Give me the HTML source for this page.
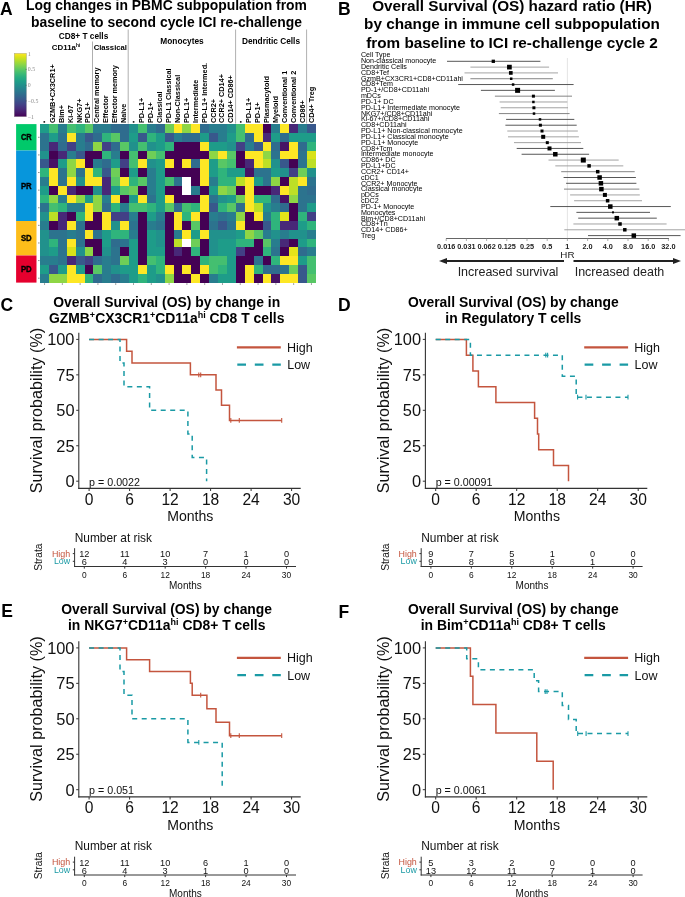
<!DOCTYPE html>
<html><head><meta charset="utf-8"><style>
html,body{margin:0;padding:0;background:#fff;}
svg{display:block;will-change:transform;font-family:"Liberation Sans", sans-serif;}
</style></head><body>
<svg width="685" height="897" viewBox="0 0 685 897">
<rect width="685" height="897" fill="#fff"/>
<text x="0.00" y="14.50" font-size="17.5" text-anchor="start" font-weight="bold" fill="#000" >A</text>
<text x="338.00" y="14.50" font-size="17.5" text-anchor="start" font-weight="bold" fill="#000" >B</text>
<text x="0.50" y="311.00" font-size="17.5" text-anchor="start" font-weight="bold" fill="#000" >C</text>
<text x="338.00" y="310.80" font-size="17.5" text-anchor="start" font-weight="bold" fill="#000" >D</text>
<text x="1.20" y="617.00" font-size="17.5" text-anchor="start" font-weight="bold" fill="#000" >E</text>
<text x="338.50" y="617.60" font-size="17.5" text-anchor="start" font-weight="bold" fill="#000" >F</text>
<text x="166.50" y="9.80" font-size="13.9" text-anchor="middle" font-weight="bold" fill="#000" >Log changes in PBMC subpopulation from</text>
<text x="166.50" y="27.40" font-size="13.9" text-anchor="middle" font-weight="bold" fill="#000" >baseline to second cycle ICI re-challenge</text>
<g shape-rendering="crispEdges">
<rect x="40.10" y="124.10" width="9.30" height="9.21" fill="#1e9c89" />
<rect x="49.00" y="124.10" width="9.30" height="9.21" fill="#44bf70" />
<rect x="57.89" y="124.10" width="9.30" height="9.21" fill="#287d8e" />
<rect x="66.79" y="124.10" width="9.30" height="9.21" fill="#44bf70" />
<rect x="75.69" y="124.10" width="9.30" height="9.21" fill="#2fb47c" />
<rect x="84.58" y="124.10" width="9.30" height="9.21" fill="#58c765" />
<rect x="93.48" y="124.10" width="9.30" height="9.21" fill="#287d8e" />
<rect x="102.38" y="124.10" width="9.30" height="9.21" fill="#287d8e" />
<rect x="111.27" y="124.10" width="9.30" height="9.21" fill="#2f6c8e" />
<rect x="120.17" y="124.10" width="9.30" height="9.21" fill="#2f6c8e" />
<rect x="129.07" y="124.10" width="9.30" height="9.21" fill="#21918c" />
<rect x="137.96" y="124.10" width="9.30" height="9.21" fill="#44bf70" />
<rect x="146.86" y="124.10" width="9.30" height="9.21" fill="#287d8e" />
<rect x="155.76" y="124.10" width="9.30" height="9.21" fill="#2f6c8e" />
<rect x="164.65" y="124.10" width="9.30" height="9.21" fill="#6ece58" />
<rect x="173.55" y="124.10" width="9.30" height="9.21" fill="#fde725" />
<rect x="182.45" y="124.10" width="9.30" height="9.21" fill="#8ed645" />
<rect x="191.35" y="124.10" width="9.30" height="9.21" fill="#fde725" />
<rect x="200.24" y="124.10" width="9.30" height="9.21" fill="#2f6c8e" />
<rect x="209.14" y="124.10" width="9.30" height="9.21" fill="#287d8e" />
<rect x="218.04" y="124.10" width="9.30" height="9.21" fill="#287d8e" />
<rect x="226.93" y="124.10" width="9.30" height="9.21" fill="#21918c" />
<rect x="235.83" y="124.10" width="9.30" height="9.21" fill="#44bf70" />
<rect x="244.73" y="124.10" width="9.30" height="9.21" fill="#fde725" />
<rect x="253.62" y="124.10" width="9.30" height="9.21" fill="#fde725" />
<rect x="262.52" y="124.10" width="9.30" height="9.21" fill="#440154" />
<rect x="271.42" y="124.10" width="9.30" height="9.21" fill="#287d8e" />
<rect x="280.31" y="124.10" width="9.30" height="9.21" fill="#fde725" />
<rect x="289.21" y="124.10" width="9.30" height="9.21" fill="#482878" />
<rect x="298.11" y="124.10" width="9.30" height="9.21" fill="#287d8e" />
<rect x="307.00" y="124.10" width="9.30" height="9.21" fill="#38588c" />
<rect x="40.10" y="132.91" width="9.30" height="9.21" fill="#2c738e" />
<rect x="49.00" y="132.91" width="9.30" height="9.21" fill="#1e9c89" />
<rect x="57.89" y="132.91" width="9.30" height="9.21" fill="#2c738e" />
<rect x="66.79" y="132.91" width="9.30" height="9.21" fill="#fde725" />
<rect x="75.69" y="132.91" width="9.30" height="9.21" fill="#287d8e" />
<rect x="84.58" y="132.91" width="9.30" height="9.21" fill="#38588c" />
<rect x="93.48" y="132.91" width="9.30" height="9.21" fill="#2f6c8e" />
<rect x="102.38" y="132.91" width="9.30" height="9.21" fill="#2fb47c" />
<rect x="111.27" y="132.91" width="9.30" height="9.21" fill="#58c765" />
<rect x="120.17" y="132.91" width="9.30" height="9.21" fill="#2f6c8e" />
<rect x="129.07" y="132.91" width="9.30" height="9.21" fill="#1e9c89" />
<rect x="137.96" y="132.91" width="9.30" height="9.21" fill="#38588c" />
<rect x="146.86" y="132.91" width="9.30" height="9.21" fill="#2fb47c" />
<rect x="155.76" y="132.91" width="9.30" height="9.21" fill="#1e9c89" />
<rect x="164.65" y="132.91" width="9.30" height="9.21" fill="#38588c" />
<rect x="173.55" y="132.91" width="9.30" height="9.21" fill="#287d8e" />
<rect x="182.45" y="132.91" width="9.30" height="9.21" fill="#2f6c8e" />
<rect x="191.35" y="132.91" width="9.30" height="9.21" fill="#2f6c8e" />
<rect x="200.24" y="132.91" width="9.30" height="9.21" fill="#1e9c89" />
<rect x="209.14" y="132.91" width="9.30" height="9.21" fill="#38588c" />
<rect x="218.04" y="132.91" width="9.30" height="9.21" fill="#287d8e" />
<rect x="226.93" y="132.91" width="9.30" height="9.21" fill="#1e9c89" />
<rect x="235.83" y="132.91" width="9.30" height="9.21" fill="#44bf70" />
<rect x="244.73" y="132.91" width="9.30" height="9.21" fill="#2f6c8e" />
<rect x="253.62" y="132.91" width="9.30" height="9.21" fill="#fde725" />
<rect x="262.52" y="132.91" width="9.30" height="9.21" fill="#482878" />
<rect x="271.42" y="132.91" width="9.30" height="9.21" fill="#1e9c89" />
<rect x="280.31" y="132.91" width="9.30" height="9.21" fill="#2f6c8e" />
<rect x="289.21" y="132.91" width="9.30" height="9.21" fill="#1e9c89" />
<rect x="298.11" y="132.91" width="9.30" height="9.21" fill="#1e9c89" />
<rect x="307.00" y="132.91" width="9.30" height="9.21" fill="#1e9c89" />
<rect x="40.10" y="141.71" width="9.30" height="9.21" fill="#2c738e" />
<rect x="49.00" y="141.71" width="9.30" height="9.21" fill="#482878" />
<rect x="57.89" y="141.71" width="9.30" height="9.21" fill="#2f6c8e" />
<rect x="66.79" y="141.71" width="9.30" height="9.21" fill="#424086" />
<rect x="75.69" y="141.71" width="9.30" height="9.21" fill="#287d8e" />
<rect x="84.58" y="141.71" width="9.30" height="9.21" fill="#2f6c8e" />
<rect x="93.48" y="141.71" width="9.30" height="9.21" fill="#8ed645" />
<rect x="102.38" y="141.71" width="9.30" height="9.21" fill="#424086" />
<rect x="111.27" y="141.71" width="9.30" height="9.21" fill="#2f6c8e" />
<rect x="120.17" y="141.71" width="9.30" height="9.21" fill="#58c765" />
<rect x="129.07" y="141.71" width="9.30" height="9.21" fill="#21918c" />
<rect x="137.96" y="141.71" width="9.30" height="9.21" fill="#44bf70" />
<rect x="146.86" y="141.71" width="9.30" height="9.21" fill="#21918c" />
<rect x="155.76" y="141.71" width="9.30" height="9.21" fill="#1e9c89" />
<rect x="164.65" y="141.71" width="9.30" height="9.21" fill="#2fb47c" />
<rect x="173.55" y="141.71" width="9.30" height="9.21" fill="#440154" />
<rect x="182.45" y="141.71" width="9.30" height="9.21" fill="#440154" />
<rect x="191.35" y="141.71" width="9.30" height="9.21" fill="#440154" />
<rect x="200.24" y="141.71" width="9.30" height="9.21" fill="#fde725" />
<rect x="209.14" y="141.71" width="9.30" height="9.21" fill="#1e9c89" />
<rect x="218.04" y="141.71" width="9.30" height="9.21" fill="#1e9c89" />
<rect x="226.93" y="141.71" width="9.30" height="9.21" fill="#21918c" />
<rect x="235.83" y="141.71" width="9.30" height="9.21" fill="#424086" />
<rect x="244.73" y="141.71" width="9.30" height="9.21" fill="#287d8e" />
<rect x="253.62" y="141.71" width="9.30" height="9.21" fill="#38588c" />
<rect x="262.52" y="141.71" width="9.30" height="9.21" fill="#fde725" />
<rect x="271.42" y="141.71" width="9.30" height="9.21" fill="#2f6c8e" />
<rect x="280.31" y="141.71" width="9.30" height="9.21" fill="#471365" />
<rect x="289.21" y="141.71" width="9.30" height="9.21" fill="#fde725" />
<rect x="298.11" y="141.71" width="9.30" height="9.21" fill="#2f6c8e" />
<rect x="307.00" y="141.71" width="9.30" height="9.21" fill="#2fb47c" />
<rect x="40.10" y="150.52" width="9.30" height="9.21" fill="#21918c" />
<rect x="49.00" y="150.52" width="9.30" height="9.21" fill="#440154" />
<rect x="57.89" y="150.52" width="9.30" height="9.21" fill="#482878" />
<rect x="66.79" y="150.52" width="9.30" height="9.21" fill="#287d8e" />
<rect x="75.69" y="150.52" width="9.30" height="9.21" fill="#38588c" />
<rect x="84.58" y="150.52" width="9.30" height="9.21" fill="#440154" />
<rect x="93.48" y="150.52" width="9.30" height="9.21" fill="#440154" />
<rect x="102.38" y="150.52" width="9.30" height="9.21" fill="#2fb47c" />
<rect x="111.27" y="150.52" width="9.30" height="9.21" fill="#287d8e" />
<rect x="120.17" y="150.52" width="9.30" height="9.21" fill="#440154" />
<rect x="129.07" y="150.52" width="9.30" height="9.21" fill="#44bf70" />
<rect x="137.96" y="150.52" width="9.30" height="9.21" fill="#440154" />
<rect x="146.86" y="150.52" width="9.30" height="9.21" fill="#6ece58" />
<rect x="155.76" y="150.52" width="9.30" height="9.21" fill="#44bf70" />
<rect x="164.65" y="150.52" width="9.30" height="9.21" fill="#440154" />
<rect x="173.55" y="150.52" width="9.30" height="9.21" fill="#440154" />
<rect x="182.45" y="150.52" width="9.30" height="9.21" fill="#440154" />
<rect x="191.35" y="150.52" width="9.30" height="9.21" fill="#440154" />
<rect x="200.24" y="150.52" width="9.30" height="9.21" fill="#440154" />
<rect x="209.14" y="150.52" width="9.30" height="9.21" fill="#8ed645" />
<rect x="218.04" y="150.52" width="9.30" height="9.21" fill="#fde725" />
<rect x="226.93" y="150.52" width="9.30" height="9.21" fill="#58c765" />
<rect x="235.83" y="150.52" width="9.30" height="9.21" fill="#440154" />
<rect x="244.73" y="150.52" width="9.30" height="9.21" fill="#fde725" />
<rect x="253.62" y="150.52" width="9.30" height="9.21" fill="#fde725" />
<rect x="262.52" y="150.52" width="9.30" height="9.21" fill="#8ed645" />
<rect x="271.42" y="150.52" width="9.30" height="9.21" fill="#2c738e" />
<rect x="280.31" y="150.52" width="9.30" height="9.21" fill="#fde725" />
<rect x="289.21" y="150.52" width="9.30" height="9.21" fill="#fde725" />
<rect x="298.11" y="150.52" width="9.30" height="9.21" fill="#2c738e" />
<rect x="307.00" y="150.52" width="9.30" height="9.21" fill="#d8e219" />
<rect x="40.10" y="159.32" width="9.30" height="9.21" fill="#38588c" />
<rect x="49.00" y="159.32" width="9.30" height="9.21" fill="#471365" />
<rect x="57.89" y="159.32" width="9.30" height="9.21" fill="#1e9c89" />
<rect x="66.79" y="159.32" width="9.30" height="9.21" fill="#8ed645" />
<rect x="75.69" y="159.32" width="9.30" height="9.21" fill="#fde725" />
<rect x="84.58" y="159.32" width="9.30" height="9.21" fill="#440154" />
<rect x="93.48" y="159.32" width="9.30" height="9.21" fill="#287d8e" />
<rect x="102.38" y="159.32" width="9.30" height="9.21" fill="#2f6c8e" />
<rect x="111.27" y="159.32" width="9.30" height="9.21" fill="#1e9c89" />
<rect x="120.17" y="159.32" width="9.30" height="9.21" fill="#424086" />
<rect x="129.07" y="159.32" width="9.30" height="9.21" fill="#44bf70" />
<rect x="137.96" y="159.32" width="9.30" height="9.21" fill="#fde725" />
<rect x="146.86" y="159.32" width="9.30" height="9.21" fill="#21918c" />
<rect x="155.76" y="159.32" width="9.30" height="9.21" fill="#1e9c89" />
<rect x="164.65" y="159.32" width="9.30" height="9.21" fill="#fde725" />
<rect x="173.55" y="159.32" width="9.30" height="9.21" fill="#440154" />
<rect x="182.45" y="159.32" width="9.30" height="9.21" fill="#fde725" />
<rect x="191.35" y="159.32" width="9.30" height="9.21" fill="#2f6c8e" />
<rect x="200.24" y="159.32" width="9.30" height="9.21" fill="#fde725" />
<rect x="209.14" y="159.32" width="9.30" height="9.21" fill="#1e9c89" />
<rect x="218.04" y="159.32" width="9.30" height="9.21" fill="#58c765" />
<rect x="226.93" y="159.32" width="9.30" height="9.21" fill="#44bf70" />
<rect x="235.83" y="159.32" width="9.30" height="9.21" fill="#440154" />
<rect x="244.73" y="159.32" width="9.30" height="9.21" fill="#482878" />
<rect x="253.62" y="159.32" width="9.30" height="9.21" fill="#fde725" />
<rect x="262.52" y="159.32" width="9.30" height="9.21" fill="#bddf26" />
<rect x="271.42" y="159.32" width="9.30" height="9.21" fill="#21918c" />
<rect x="280.31" y="159.32" width="9.30" height="9.21" fill="#38588c" />
<rect x="289.21" y="159.32" width="9.30" height="9.21" fill="#440154" />
<rect x="298.11" y="159.32" width="9.30" height="9.21" fill="#2c738e" />
<rect x="307.00" y="159.32" width="9.30" height="9.21" fill="#bddf26" />
<rect x="40.10" y="168.13" width="9.30" height="9.21" fill="#2fb47c" />
<rect x="49.00" y="168.13" width="9.30" height="9.21" fill="#fde725" />
<rect x="57.89" y="168.13" width="9.30" height="9.21" fill="#2c738e" />
<rect x="66.79" y="168.13" width="9.30" height="9.21" fill="#8ed645" />
<rect x="75.69" y="168.13" width="9.30" height="9.21" fill="#2c738e" />
<rect x="84.58" y="168.13" width="9.30" height="9.21" fill="#fde725" />
<rect x="93.48" y="168.13" width="9.30" height="9.21" fill="#2fb47c" />
<rect x="102.38" y="168.13" width="9.30" height="9.21" fill="#38588c" />
<rect x="111.27" y="168.13" width="9.30" height="9.21" fill="#6ece58" />
<rect x="120.17" y="168.13" width="9.30" height="9.21" fill="#440154" />
<rect x="129.07" y="168.13" width="9.30" height="9.21" fill="#1e9c89" />
<rect x="137.96" y="168.13" width="9.30" height="9.21" fill="#440154" />
<rect x="146.86" y="168.13" width="9.30" height="9.21" fill="#287d8e" />
<rect x="155.76" y="168.13" width="9.30" height="9.21" fill="#1e9c89" />
<rect x="164.65" y="168.13" width="9.30" height="9.21" fill="#440154" />
<rect x="173.55" y="168.13" width="9.30" height="9.21" fill="#440154" />
<rect x="182.45" y="168.13" width="9.30" height="9.21" fill="#440154" />
<rect x="191.35" y="168.13" width="9.30" height="9.21" fill="#440154" />
<rect x="200.24" y="168.13" width="9.30" height="9.21" fill="#fde725" />
<rect x="209.14" y="168.13" width="9.30" height="9.21" fill="#1e9c89" />
<rect x="218.04" y="168.13" width="9.30" height="9.21" fill="#2fb47c" />
<rect x="226.93" y="168.13" width="9.30" height="9.21" fill="#1e9c89" />
<rect x="235.83" y="168.13" width="9.30" height="9.21" fill="#1e9c89" />
<rect x="244.73" y="168.13" width="9.30" height="9.21" fill="#471365" />
<rect x="253.62" y="168.13" width="9.30" height="9.21" fill="#2c738e" />
<rect x="262.52" y="168.13" width="9.30" height="9.21" fill="#2c738e" />
<rect x="271.42" y="168.13" width="9.30" height="9.21" fill="#1e9c89" />
<rect x="280.31" y="168.13" width="9.30" height="9.21" fill="#21918c" />
<rect x="289.21" y="168.13" width="9.30" height="9.21" fill="#424086" />
<rect x="298.11" y="168.13" width="9.30" height="9.21" fill="#6ece58" />
<rect x="307.00" y="168.13" width="9.30" height="9.21" fill="#21918c" />
<rect x="40.10" y="176.93" width="9.30" height="9.21" fill="#287d8e" />
<rect x="49.00" y="176.93" width="9.30" height="9.21" fill="#fde725" />
<rect x="57.89" y="176.93" width="9.30" height="9.21" fill="#2c738e" />
<rect x="66.79" y="176.93" width="9.30" height="9.21" fill="#fde725" />
<rect x="75.69" y="176.93" width="9.30" height="9.21" fill="#21918c" />
<rect x="84.58" y="176.93" width="9.30" height="9.21" fill="#fde725" />
<rect x="93.48" y="176.93" width="9.30" height="9.21" fill="#fde725" />
<rect x="102.38" y="176.93" width="9.30" height="9.21" fill="#482878" />
<rect x="111.27" y="176.93" width="9.30" height="9.21" fill="#58c765" />
<rect x="120.17" y="176.93" width="9.30" height="9.21" fill="#fde725" />
<rect x="129.07" y="176.93" width="9.30" height="9.21" fill="#2fb47c" />
<rect x="137.96" y="176.93" width="9.30" height="9.21" fill="#58c765" />
<rect x="146.86" y="176.93" width="9.30" height="9.21" fill="#287d8e" />
<rect x="155.76" y="176.93" width="9.30" height="9.21" fill="#1e9c89" />
<rect x="164.65" y="176.93" width="9.30" height="9.21" fill="#44bf70" />
<rect x="173.55" y="176.93" width="9.30" height="9.21" fill="#2c738e" />
<rect x="182.45" y="176.93" width="9.30" height="9.21" fill="#ffffff" />
<rect x="191.35" y="176.93" width="9.30" height="9.21" fill="#440154" />
<rect x="200.24" y="176.93" width="9.30" height="9.21" fill="#fde725" />
<rect x="209.14" y="176.93" width="9.30" height="9.21" fill="#287d8e" />
<rect x="218.04" y="176.93" width="9.30" height="9.21" fill="#2fb47c" />
<rect x="226.93" y="176.93" width="9.30" height="9.21" fill="#2fb47c" />
<rect x="235.83" y="176.93" width="9.30" height="9.21" fill="#bddf26" />
<rect x="244.73" y="176.93" width="9.30" height="9.21" fill="#fde725" />
<rect x="253.62" y="176.93" width="9.30" height="9.21" fill="#1e9c89" />
<rect x="262.52" y="176.93" width="9.30" height="9.21" fill="#2c738e" />
<rect x="271.42" y="176.93" width="9.30" height="9.21" fill="#8ed645" />
<rect x="280.31" y="176.93" width="9.30" height="9.21" fill="#440154" />
<rect x="289.21" y="176.93" width="9.30" height="9.21" fill="#bddf26" />
<rect x="298.11" y="176.93" width="9.30" height="9.21" fill="#fde725" />
<rect x="307.00" y="176.93" width="9.30" height="9.21" fill="#2c738e" />
<rect x="40.10" y="185.74" width="9.30" height="9.21" fill="#1e9c89" />
<rect x="49.00" y="185.74" width="9.30" height="9.21" fill="#440154" />
<rect x="57.89" y="185.74" width="9.30" height="9.21" fill="#fde725" />
<rect x="66.79" y="185.74" width="9.30" height="9.21" fill="#482878" />
<rect x="75.69" y="185.74" width="9.30" height="9.21" fill="#440154" />
<rect x="84.58" y="185.74" width="9.30" height="9.21" fill="#440154" />
<rect x="93.48" y="185.74" width="9.30" height="9.21" fill="#21918c" />
<rect x="102.38" y="185.74" width="9.30" height="9.21" fill="#482878" />
<rect x="111.27" y="185.74" width="9.30" height="9.21" fill="#1e9c89" />
<rect x="120.17" y="185.74" width="9.30" height="9.21" fill="#58c765" />
<rect x="129.07" y="185.74" width="9.30" height="9.21" fill="#6ece58" />
<rect x="137.96" y="185.74" width="9.30" height="9.21" fill="#440154" />
<rect x="146.86" y="185.74" width="9.30" height="9.21" fill="#287d8e" />
<rect x="155.76" y="185.74" width="9.30" height="9.21" fill="#1e9c89" />
<rect x="164.65" y="185.74" width="9.30" height="9.21" fill="#440154" />
<rect x="173.55" y="185.74" width="9.30" height="9.21" fill="#440154" />
<rect x="182.45" y="185.74" width="9.30" height="9.21" fill="#ffffff" />
<rect x="191.35" y="185.74" width="9.30" height="9.21" fill="#287d8e" />
<rect x="200.24" y="185.74" width="9.30" height="9.21" fill="#440154" />
<rect x="209.14" y="185.74" width="9.30" height="9.21" fill="#1e9c89" />
<rect x="218.04" y="185.74" width="9.30" height="9.21" fill="#8ed645" />
<rect x="226.93" y="185.74" width="9.30" height="9.21" fill="#6ece58" />
<rect x="235.83" y="185.74" width="9.30" height="9.21" fill="#440154" />
<rect x="244.73" y="185.74" width="9.30" height="9.21" fill="#fde725" />
<rect x="253.62" y="185.74" width="9.30" height="9.21" fill="#440154" />
<rect x="262.52" y="185.74" width="9.30" height="9.21" fill="#440154" />
<rect x="271.42" y="185.74" width="9.30" height="9.21" fill="#482878" />
<rect x="280.31" y="185.74" width="9.30" height="9.21" fill="#fde725" />
<rect x="289.21" y="185.74" width="9.30" height="9.21" fill="#bddf26" />
<rect x="298.11" y="185.74" width="9.30" height="9.21" fill="#2c738e" />
<rect x="307.00" y="185.74" width="9.30" height="9.21" fill="#2f6c8e" />
<rect x="40.10" y="194.54" width="9.30" height="9.21" fill="#2fb47c" />
<rect x="49.00" y="194.54" width="9.30" height="9.21" fill="#8ed645" />
<rect x="57.89" y="194.54" width="9.30" height="9.21" fill="#287d8e" />
<rect x="66.79" y="194.54" width="9.30" height="9.21" fill="#fde725" />
<rect x="75.69" y="194.54" width="9.30" height="9.21" fill="#8ed645" />
<rect x="84.58" y="194.54" width="9.30" height="9.21" fill="#1e9c89" />
<rect x="93.48" y="194.54" width="9.30" height="9.21" fill="#8ed645" />
<rect x="102.38" y="194.54" width="9.30" height="9.21" fill="#287d8e" />
<rect x="111.27" y="194.54" width="9.30" height="9.21" fill="#fde725" />
<rect x="120.17" y="194.54" width="9.30" height="9.21" fill="#440154" />
<rect x="129.07" y="194.54" width="9.30" height="9.21" fill="#1e9c89" />
<rect x="137.96" y="194.54" width="9.30" height="9.21" fill="#fde725" />
<rect x="146.86" y="194.54" width="9.30" height="9.21" fill="#2c738e" />
<rect x="155.76" y="194.54" width="9.30" height="9.21" fill="#1e9c89" />
<rect x="164.65" y="194.54" width="9.30" height="9.21" fill="#fde725" />
<rect x="173.55" y="194.54" width="9.30" height="9.21" fill="#440154" />
<rect x="182.45" y="194.54" width="9.30" height="9.21" fill="#440154" />
<rect x="191.35" y="194.54" width="9.30" height="9.21" fill="#440154" />
<rect x="200.24" y="194.54" width="9.30" height="9.21" fill="#fde725" />
<rect x="209.14" y="194.54" width="9.30" height="9.21" fill="#2c738e" />
<rect x="218.04" y="194.54" width="9.30" height="9.21" fill="#21918c" />
<rect x="226.93" y="194.54" width="9.30" height="9.21" fill="#1e9c89" />
<rect x="235.83" y="194.54" width="9.30" height="9.21" fill="#6ece58" />
<rect x="244.73" y="194.54" width="9.30" height="9.21" fill="#fde725" />
<rect x="253.62" y="194.54" width="9.30" height="9.21" fill="#2fb47c" />
<rect x="262.52" y="194.54" width="9.30" height="9.21" fill="#2fb47c" />
<rect x="271.42" y="194.54" width="9.30" height="9.21" fill="#2f6c8e" />
<rect x="280.31" y="194.54" width="9.30" height="9.21" fill="#471365" />
<rect x="289.21" y="194.54" width="9.30" height="9.21" fill="#8ed645" />
<rect x="298.11" y="194.54" width="9.30" height="9.21" fill="#2c738e" />
<rect x="307.00" y="194.54" width="9.30" height="9.21" fill="#2c738e" />
<rect x="40.10" y="203.35" width="9.30" height="9.21" fill="#2c738e" />
<rect x="49.00" y="203.35" width="9.30" height="9.21" fill="#44bf70" />
<rect x="57.89" y="203.35" width="9.30" height="9.21" fill="#2fb47c" />
<rect x="66.79" y="203.35" width="9.30" height="9.21" fill="#287d8e" />
<rect x="75.69" y="203.35" width="9.30" height="9.21" fill="#287d8e" />
<rect x="84.58" y="203.35" width="9.30" height="9.21" fill="#fde725" />
<rect x="93.48" y="203.35" width="9.30" height="9.21" fill="#8ed645" />
<rect x="102.38" y="203.35" width="9.30" height="9.21" fill="#2f6c8e" />
<rect x="111.27" y="203.35" width="9.30" height="9.21" fill="#2fb47c" />
<rect x="120.17" y="203.35" width="9.30" height="9.21" fill="#287d8e" />
<rect x="129.07" y="203.35" width="9.30" height="9.21" fill="#44bf70" />
<rect x="137.96" y="203.35" width="9.30" height="9.21" fill="#44bf70" />
<rect x="146.86" y="203.35" width="9.30" height="9.21" fill="#2fb47c" />
<rect x="155.76" y="203.35" width="9.30" height="9.21" fill="#1e9c89" />
<rect x="164.65" y="203.35" width="9.30" height="9.21" fill="#58c765" />
<rect x="173.55" y="203.35" width="9.30" height="9.21" fill="#2f6c8e" />
<rect x="182.45" y="203.35" width="9.30" height="9.21" fill="#44bf70" />
<rect x="191.35" y="203.35" width="9.30" height="9.21" fill="#2fb47c" />
<rect x="200.24" y="203.35" width="9.30" height="9.21" fill="#fde725" />
<rect x="209.14" y="203.35" width="9.30" height="9.21" fill="#38588c" />
<rect x="218.04" y="203.35" width="9.30" height="9.21" fill="#2fb47c" />
<rect x="226.93" y="203.35" width="9.30" height="9.21" fill="#58c765" />
<rect x="235.83" y="203.35" width="9.30" height="9.21" fill="#2f6c8e" />
<rect x="244.73" y="203.35" width="9.30" height="9.21" fill="#fde725" />
<rect x="253.62" y="203.35" width="9.30" height="9.21" fill="#bddf26" />
<rect x="262.52" y="203.35" width="9.30" height="9.21" fill="#21918c" />
<rect x="271.42" y="203.35" width="9.30" height="9.21" fill="#287d8e" />
<rect x="280.31" y="203.35" width="9.30" height="9.21" fill="#2f6c8e" />
<rect x="289.21" y="203.35" width="9.30" height="9.21" fill="#440154" />
<rect x="298.11" y="203.35" width="9.30" height="9.21" fill="#2c738e" />
<rect x="307.00" y="203.35" width="9.30" height="9.21" fill="#1e9c89" />
<rect x="40.10" y="212.16" width="9.30" height="9.21" fill="#21918c" />
<rect x="49.00" y="212.16" width="9.30" height="9.21" fill="#bddf26" />
<rect x="57.89" y="212.16" width="9.30" height="9.21" fill="#482878" />
<rect x="66.79" y="212.16" width="9.30" height="9.21" fill="#440154" />
<rect x="75.69" y="212.16" width="9.30" height="9.21" fill="#2fb47c" />
<rect x="84.58" y="212.16" width="9.30" height="9.21" fill="#fde725" />
<rect x="93.48" y="212.16" width="9.30" height="9.21" fill="#440154" />
<rect x="102.38" y="212.16" width="9.30" height="9.21" fill="#fde725" />
<rect x="111.27" y="212.16" width="9.30" height="9.21" fill="#424086" />
<rect x="120.17" y="212.16" width="9.30" height="9.21" fill="#424086" />
<rect x="129.07" y="212.16" width="9.30" height="9.21" fill="#287d8e" />
<rect x="137.96" y="212.16" width="9.30" height="9.21" fill="#440154" />
<rect x="146.86" y="212.16" width="9.30" height="9.21" fill="#1e9c89" />
<rect x="155.76" y="212.16" width="9.30" height="9.21" fill="#287d8e" />
<rect x="164.65" y="212.16" width="9.30" height="9.21" fill="#440154" />
<rect x="173.55" y="212.16" width="9.30" height="9.21" fill="#fde725" />
<rect x="182.45" y="212.16" width="9.30" height="9.21" fill="#2fb47c" />
<rect x="191.35" y="212.16" width="9.30" height="9.21" fill="#fde725" />
<rect x="200.24" y="212.16" width="9.30" height="9.21" fill="#440154" />
<rect x="209.14" y="212.16" width="9.30" height="9.21" fill="#287d8e" />
<rect x="218.04" y="212.16" width="9.30" height="9.21" fill="#2c738e" />
<rect x="226.93" y="212.16" width="9.30" height="9.21" fill="#287d8e" />
<rect x="235.83" y="212.16" width="9.30" height="9.21" fill="#8ed645" />
<rect x="244.73" y="212.16" width="9.30" height="9.21" fill="#440154" />
<rect x="253.62" y="212.16" width="9.30" height="9.21" fill="#fde725" />
<rect x="262.52" y="212.16" width="9.30" height="9.21" fill="#287d8e" />
<rect x="271.42" y="212.16" width="9.30" height="9.21" fill="#2fb47c" />
<rect x="280.31" y="212.16" width="9.30" height="9.21" fill="#e5e419" />
<rect x="289.21" y="212.16" width="9.30" height="9.21" fill="#440154" />
<rect x="298.11" y="212.16" width="9.30" height="9.21" fill="#2fb47c" />
<rect x="307.00" y="212.16" width="9.30" height="9.21" fill="#424086" />
<rect x="40.10" y="220.96" width="9.30" height="9.21" fill="#287d8e" />
<rect x="49.00" y="220.96" width="9.30" height="9.21" fill="#440154" />
<rect x="57.89" y="220.96" width="9.30" height="9.21" fill="#482878" />
<rect x="66.79" y="220.96" width="9.30" height="9.21" fill="#fde725" />
<rect x="75.69" y="220.96" width="9.30" height="9.21" fill="#2c738e" />
<rect x="84.58" y="220.96" width="9.30" height="9.21" fill="#440154" />
<rect x="93.48" y="220.96" width="9.30" height="9.21" fill="#440154" />
<rect x="102.38" y="220.96" width="9.30" height="9.21" fill="#fde725" />
<rect x="111.27" y="220.96" width="9.30" height="9.21" fill="#21918c" />
<rect x="120.17" y="220.96" width="9.30" height="9.21" fill="#fde725" />
<rect x="129.07" y="220.96" width="9.30" height="9.21" fill="#2c738e" />
<rect x="137.96" y="220.96" width="9.30" height="9.21" fill="#440154" />
<rect x="146.86" y="220.96" width="9.30" height="9.21" fill="#287d8e" />
<rect x="155.76" y="220.96" width="9.30" height="9.21" fill="#2c738e" />
<rect x="164.65" y="220.96" width="9.30" height="9.21" fill="#440154" />
<rect x="173.55" y="220.96" width="9.30" height="9.21" fill="#fde725" />
<rect x="182.45" y="220.96" width="9.30" height="9.21" fill="#440154" />
<rect x="191.35" y="220.96" width="9.30" height="9.21" fill="#58c765" />
<rect x="200.24" y="220.96" width="9.30" height="9.21" fill="#440154" />
<rect x="209.14" y="220.96" width="9.30" height="9.21" fill="#2c738e" />
<rect x="218.04" y="220.96" width="9.30" height="9.21" fill="#38588c" />
<rect x="226.93" y="220.96" width="9.30" height="9.21" fill="#2c738e" />
<rect x="235.83" y="220.96" width="9.30" height="9.21" fill="#fde725" />
<rect x="244.73" y="220.96" width="9.30" height="9.21" fill="#440154" />
<rect x="253.62" y="220.96" width="9.30" height="9.21" fill="#440154" />
<rect x="262.52" y="220.96" width="9.30" height="9.21" fill="#38588c" />
<rect x="271.42" y="220.96" width="9.30" height="9.21" fill="#2fb47c" />
<rect x="280.31" y="220.96" width="9.30" height="9.21" fill="#482878" />
<rect x="289.21" y="220.96" width="9.30" height="9.21" fill="#482878" />
<rect x="298.11" y="220.96" width="9.30" height="9.21" fill="#1e9c89" />
<rect x="307.00" y="220.96" width="9.30" height="9.21" fill="#2fb47c" />
<rect x="40.10" y="229.77" width="9.30" height="9.21" fill="#21918c" />
<rect x="49.00" y="229.77" width="9.30" height="9.21" fill="#2c738e" />
<rect x="57.89" y="229.77" width="9.30" height="9.21" fill="#2c738e" />
<rect x="66.79" y="229.77" width="9.30" height="9.21" fill="#287d8e" />
<rect x="75.69" y="229.77" width="9.30" height="9.21" fill="#2c738e" />
<rect x="84.58" y="229.77" width="9.30" height="9.21" fill="#fde725" />
<rect x="93.48" y="229.77" width="9.30" height="9.21" fill="#2c738e" />
<rect x="102.38" y="229.77" width="9.30" height="9.21" fill="#1e9c89" />
<rect x="111.27" y="229.77" width="9.30" height="9.21" fill="#2fb47c" />
<rect x="120.17" y="229.77" width="9.30" height="9.21" fill="#2fb47c" />
<rect x="129.07" y="229.77" width="9.30" height="9.21" fill="#287d8e" />
<rect x="137.96" y="229.77" width="9.30" height="9.21" fill="#440154" />
<rect x="146.86" y="229.77" width="9.30" height="9.21" fill="#1e9c89" />
<rect x="155.76" y="229.77" width="9.30" height="9.21" fill="#21918c" />
<rect x="164.65" y="229.77" width="9.30" height="9.21" fill="#440154" />
<rect x="173.55" y="229.77" width="9.30" height="9.21" fill="#287d8e" />
<rect x="182.45" y="229.77" width="9.30" height="9.21" fill="#fde725" />
<rect x="191.35" y="229.77" width="9.30" height="9.21" fill="#1e9c89" />
<rect x="200.24" y="229.77" width="9.30" height="9.21" fill="#fde725" />
<rect x="209.14" y="229.77" width="9.30" height="9.21" fill="#21918c" />
<rect x="218.04" y="229.77" width="9.30" height="9.21" fill="#21918c" />
<rect x="226.93" y="229.77" width="9.30" height="9.21" fill="#21918c" />
<rect x="235.83" y="229.77" width="9.30" height="9.21" fill="#1e9c89" />
<rect x="244.73" y="229.77" width="9.30" height="9.21" fill="#8ed645" />
<rect x="253.62" y="229.77" width="9.30" height="9.21" fill="#58c765" />
<rect x="262.52" y="229.77" width="9.30" height="9.21" fill="#287d8e" />
<rect x="271.42" y="229.77" width="9.30" height="9.21" fill="#21918c" />
<rect x="280.31" y="229.77" width="9.30" height="9.21" fill="#287d8e" />
<rect x="289.21" y="229.77" width="9.30" height="9.21" fill="#21918c" />
<rect x="298.11" y="229.77" width="9.30" height="9.21" fill="#21918c" />
<rect x="307.00" y="229.77" width="9.30" height="9.21" fill="#287d8e" />
<rect x="40.10" y="238.57" width="9.30" height="9.21" fill="#21918c" />
<rect x="49.00" y="238.57" width="9.30" height="9.21" fill="#2fb47c" />
<rect x="57.89" y="238.57" width="9.30" height="9.21" fill="#2c738e" />
<rect x="66.79" y="238.57" width="9.30" height="9.21" fill="#fde725" />
<rect x="75.69" y="238.57" width="9.30" height="9.21" fill="#2c738e" />
<rect x="84.58" y="238.57" width="9.30" height="9.21" fill="#440154" />
<rect x="93.48" y="238.57" width="9.30" height="9.21" fill="#440154" />
<rect x="102.38" y="238.57" width="9.30" height="9.21" fill="#1e9c89" />
<rect x="111.27" y="238.57" width="9.30" height="9.21" fill="#2f6c8e" />
<rect x="120.17" y="238.57" width="9.30" height="9.21" fill="#2c738e" />
<rect x="129.07" y="238.57" width="9.30" height="9.21" fill="#1e9c89" />
<rect x="137.96" y="238.57" width="9.30" height="9.21" fill="#440154" />
<rect x="146.86" y="238.57" width="9.30" height="9.21" fill="#1e9c89" />
<rect x="155.76" y="238.57" width="9.30" height="9.21" fill="#21918c" />
<rect x="164.65" y="238.57" width="9.30" height="9.21" fill="#440154" />
<rect x="173.55" y="238.57" width="9.30" height="9.21" fill="#bddf26" />
<rect x="182.45" y="238.57" width="9.30" height="9.21" fill="#ffffff" />
<rect x="191.35" y="238.57" width="9.30" height="9.21" fill="#6ece58" />
<rect x="200.24" y="238.57" width="9.30" height="9.21" fill="#440154" />
<rect x="209.14" y="238.57" width="9.30" height="9.21" fill="#21918c" />
<rect x="218.04" y="238.57" width="9.30" height="9.21" fill="#1e9c89" />
<rect x="226.93" y="238.57" width="9.30" height="9.21" fill="#1e9c89" />
<rect x="235.83" y="238.57" width="9.30" height="9.21" fill="#2fb47c" />
<rect x="244.73" y="238.57" width="9.30" height="9.21" fill="#2fb47c" />
<rect x="253.62" y="238.57" width="9.30" height="9.21" fill="#440154" />
<rect x="262.52" y="238.57" width="9.30" height="9.21" fill="#58c765" />
<rect x="271.42" y="238.57" width="9.30" height="9.21" fill="#287d8e" />
<rect x="280.31" y="238.57" width="9.30" height="9.21" fill="#482878" />
<rect x="289.21" y="238.57" width="9.30" height="9.21" fill="#440154" />
<rect x="298.11" y="238.57" width="9.30" height="9.21" fill="#1e9c89" />
<rect x="307.00" y="238.57" width="9.30" height="9.21" fill="#2fb47c" />
<rect x="40.10" y="247.38" width="9.30" height="9.21" fill="#21918c" />
<rect x="49.00" y="247.38" width="9.30" height="9.21" fill="#1e9c89" />
<rect x="57.89" y="247.38" width="9.30" height="9.21" fill="#2c738e" />
<rect x="66.79" y="247.38" width="9.30" height="9.21" fill="#d8e219" />
<rect x="75.69" y="247.38" width="9.30" height="9.21" fill="#21918c" />
<rect x="84.58" y="247.38" width="9.30" height="9.21" fill="#8ed645" />
<rect x="93.48" y="247.38" width="9.30" height="9.21" fill="#440154" />
<rect x="102.38" y="247.38" width="9.30" height="9.21" fill="#21918c" />
<rect x="111.27" y="247.38" width="9.30" height="9.21" fill="#2c738e" />
<rect x="120.17" y="247.38" width="9.30" height="9.21" fill="#440154" />
<rect x="129.07" y="247.38" width="9.30" height="9.21" fill="#1e9c89" />
<rect x="137.96" y="247.38" width="9.30" height="9.21" fill="#440154" />
<rect x="146.86" y="247.38" width="9.30" height="9.21" fill="#1e9c89" />
<rect x="155.76" y="247.38" width="9.30" height="9.21" fill="#1e9c89" />
<rect x="164.65" y="247.38" width="9.30" height="9.21" fill="#440154" />
<rect x="173.55" y="247.38" width="9.30" height="9.21" fill="#482878" />
<rect x="182.45" y="247.38" width="9.30" height="9.21" fill="#440154" />
<rect x="191.35" y="247.38" width="9.30" height="9.21" fill="#2fb47c" />
<rect x="200.24" y="247.38" width="9.30" height="9.21" fill="#440154" />
<rect x="209.14" y="247.38" width="9.30" height="9.21" fill="#21918c" />
<rect x="218.04" y="247.38" width="9.30" height="9.21" fill="#1e9c89" />
<rect x="226.93" y="247.38" width="9.30" height="9.21" fill="#1e9c89" />
<rect x="235.83" y="247.38" width="9.30" height="9.21" fill="#424086" />
<rect x="244.73" y="247.38" width="9.30" height="9.21" fill="#440154" />
<rect x="253.62" y="247.38" width="9.30" height="9.21" fill="#440154" />
<rect x="262.52" y="247.38" width="9.30" height="9.21" fill="#2fb47c" />
<rect x="271.42" y="247.38" width="9.30" height="9.21" fill="#2c738e" />
<rect x="280.31" y="247.38" width="9.30" height="9.21" fill="#440154" />
<rect x="289.21" y="247.38" width="9.30" height="9.21" fill="#e5e419" />
<rect x="298.11" y="247.38" width="9.30" height="9.21" fill="#2f6c8e" />
<rect x="307.00" y="247.38" width="9.30" height="9.21" fill="#287d8e" />
<rect x="40.10" y="256.18" width="9.30" height="9.21" fill="#287d8e" />
<rect x="49.00" y="256.18" width="9.30" height="9.21" fill="#287d8e" />
<rect x="57.89" y="256.18" width="9.30" height="9.21" fill="#2c738e" />
<rect x="66.79" y="256.18" width="9.30" height="9.21" fill="#482878" />
<rect x="75.69" y="256.18" width="9.30" height="9.21" fill="#38588c" />
<rect x="84.58" y="256.18" width="9.30" height="9.21" fill="#424086" />
<rect x="93.48" y="256.18" width="9.30" height="9.21" fill="#2f6c8e" />
<rect x="102.38" y="256.18" width="9.30" height="9.21" fill="#287d8e" />
<rect x="111.27" y="256.18" width="9.30" height="9.21" fill="#2c738e" />
<rect x="120.17" y="256.18" width="9.30" height="9.21" fill="#6ece58" />
<rect x="129.07" y="256.18" width="9.30" height="9.21" fill="#1e9c89" />
<rect x="137.96" y="256.18" width="9.30" height="9.21" fill="#440154" />
<rect x="146.86" y="256.18" width="9.30" height="9.21" fill="#44bf70" />
<rect x="155.76" y="256.18" width="9.30" height="9.21" fill="#2fb47c" />
<rect x="164.65" y="256.18" width="9.30" height="9.21" fill="#440154" />
<rect x="173.55" y="256.18" width="9.30" height="9.21" fill="#440154" />
<rect x="182.45" y="256.18" width="9.30" height="9.21" fill="#440154" />
<rect x="191.35" y="256.18" width="9.30" height="9.21" fill="#440154" />
<rect x="200.24" y="256.18" width="9.30" height="9.21" fill="#2fb47c" />
<rect x="209.14" y="256.18" width="9.30" height="9.21" fill="#44bf70" />
<rect x="218.04" y="256.18" width="9.30" height="9.21" fill="#44bf70" />
<rect x="226.93" y="256.18" width="9.30" height="9.21" fill="#1e9c89" />
<rect x="235.83" y="256.18" width="9.30" height="9.21" fill="#440154" />
<rect x="244.73" y="256.18" width="9.30" height="9.21" fill="#440154" />
<rect x="253.62" y="256.18" width="9.30" height="9.21" fill="#2c738e" />
<rect x="262.52" y="256.18" width="9.30" height="9.21" fill="#440154" />
<rect x="271.42" y="256.18" width="9.30" height="9.21" fill="#2fb47c" />
<rect x="280.31" y="256.18" width="9.30" height="9.21" fill="#fde725" />
<rect x="289.21" y="256.18" width="9.30" height="9.21" fill="#fde725" />
<rect x="298.11" y="256.18" width="9.30" height="9.21" fill="#1e9c89" />
<rect x="307.00" y="256.18" width="9.30" height="9.21" fill="#44bf70" />
<rect x="40.10" y="264.99" width="9.30" height="9.21" fill="#1e9c89" />
<rect x="49.00" y="264.99" width="9.30" height="9.21" fill="#38588c" />
<rect x="57.89" y="264.99" width="9.30" height="9.21" fill="#1e9c89" />
<rect x="66.79" y="264.99" width="9.30" height="9.21" fill="#fde725" />
<rect x="75.69" y="264.99" width="9.30" height="9.21" fill="#1e9c89" />
<rect x="84.58" y="264.99" width="9.30" height="9.21" fill="#440154" />
<rect x="93.48" y="264.99" width="9.30" height="9.21" fill="#58c765" />
<rect x="102.38" y="264.99" width="9.30" height="9.21" fill="#287d8e" />
<rect x="111.27" y="264.99" width="9.30" height="9.21" fill="#21918c" />
<rect x="120.17" y="264.99" width="9.30" height="9.21" fill="#1e9c89" />
<rect x="129.07" y="264.99" width="9.30" height="9.21" fill="#1e9c89" />
<rect x="137.96" y="264.99" width="9.30" height="9.21" fill="#fde725" />
<rect x="146.86" y="264.99" width="9.30" height="9.21" fill="#1e9c89" />
<rect x="155.76" y="264.99" width="9.30" height="9.21" fill="#2fb47c" />
<rect x="164.65" y="264.99" width="9.30" height="9.21" fill="#fde725" />
<rect x="173.55" y="264.99" width="9.30" height="9.21" fill="#440154" />
<rect x="182.45" y="264.99" width="9.30" height="9.21" fill="#fde725" />
<rect x="191.35" y="264.99" width="9.30" height="9.21" fill="#440154" />
<rect x="200.24" y="264.99" width="9.30" height="9.21" fill="#fde725" />
<rect x="209.14" y="264.99" width="9.30" height="9.21" fill="#44bf70" />
<rect x="218.04" y="264.99" width="9.30" height="9.21" fill="#2fb47c" />
<rect x="226.93" y="264.99" width="9.30" height="9.21" fill="#1e9c89" />
<rect x="235.83" y="264.99" width="9.30" height="9.21" fill="#440154" />
<rect x="244.73" y="264.99" width="9.30" height="9.21" fill="#fde725" />
<rect x="253.62" y="264.99" width="9.30" height="9.21" fill="#2fb47c" />
<rect x="262.52" y="264.99" width="9.30" height="9.21" fill="#2f6c8e" />
<rect x="271.42" y="264.99" width="9.30" height="9.21" fill="#2f6c8e" />
<rect x="280.31" y="264.99" width="9.30" height="9.21" fill="#2c738e" />
<rect x="289.21" y="264.99" width="9.30" height="9.21" fill="#6ece58" />
<rect x="298.11" y="264.99" width="9.30" height="9.21" fill="#38588c" />
<rect x="307.00" y="264.99" width="9.30" height="9.21" fill="#44bf70" />
<rect x="40.10" y="273.79" width="9.30" height="9.21" fill="#287d8e" />
<rect x="49.00" y="273.79" width="9.30" height="9.21" fill="#8ed645" />
<rect x="57.89" y="273.79" width="9.30" height="9.21" fill="#8ed645" />
<rect x="66.79" y="273.79" width="9.30" height="9.21" fill="#fde725" />
<rect x="75.69" y="273.79" width="9.30" height="9.21" fill="#fde725" />
<rect x="84.58" y="273.79" width="9.30" height="9.21" fill="#2fb47c" />
<rect x="93.48" y="273.79" width="9.30" height="9.21" fill="#2f6c8e" />
<rect x="102.38" y="273.79" width="9.30" height="9.21" fill="#287d8e" />
<rect x="111.27" y="273.79" width="9.30" height="9.21" fill="#2f6c8e" />
<rect x="120.17" y="273.79" width="9.30" height="9.21" fill="#287d8e" />
<rect x="129.07" y="273.79" width="9.30" height="9.21" fill="#1e9c89" />
<rect x="137.96" y="273.79" width="9.30" height="9.21" fill="#2fb47c" />
<rect x="146.86" y="273.79" width="9.30" height="9.21" fill="#1e9c89" />
<rect x="155.76" y="273.79" width="9.30" height="9.21" fill="#21918c" />
<rect x="164.65" y="273.79" width="9.30" height="9.21" fill="#8ed645" />
<rect x="173.55" y="273.79" width="9.30" height="9.21" fill="#440154" />
<rect x="182.45" y="273.79" width="9.30" height="9.21" fill="#440154" />
<rect x="191.35" y="273.79" width="9.30" height="9.21" fill="#fde725" />
<rect x="200.24" y="273.79" width="9.30" height="9.21" fill="#440154" />
<rect x="209.14" y="273.79" width="9.30" height="9.21" fill="#287d8e" />
<rect x="218.04" y="273.79" width="9.30" height="9.21" fill="#1e9c89" />
<rect x="226.93" y="273.79" width="9.30" height="9.21" fill="#1e9c89" />
<rect x="235.83" y="273.79" width="9.30" height="9.21" fill="#440154" />
<rect x="244.73" y="273.79" width="9.30" height="9.21" fill="#fde725" />
<rect x="253.62" y="273.79" width="9.30" height="9.21" fill="#440154" />
<rect x="262.52" y="273.79" width="9.30" height="9.21" fill="#fde725" />
<rect x="271.42" y="273.79" width="9.30" height="9.21" fill="#471365" />
<rect x="280.31" y="273.79" width="9.30" height="9.21" fill="#fde725" />
<rect x="289.21" y="273.79" width="9.30" height="9.21" fill="#fde725" />
<rect x="298.11" y="273.79" width="9.30" height="9.21" fill="#38588c" />
<rect x="307.00" y="273.79" width="9.30" height="9.21" fill="#58c765" />
</g>
<text x="83.50" y="39.30" font-size="8.3" text-anchor="middle" font-weight="bold" fill="#000" >CD8+ T cells</text>
<text x="66.00" y="50.40" font-size="7.9" text-anchor="middle" font-weight="bold" fill="#000" >CD11a<tspan font-size="4.8" baseline-shift="3">hi</tspan></text>
<text x="110.30" y="50.20" font-size="7.7" text-anchor="middle" font-weight="bold" fill="#000" >Classical</text>
<text x="182.00" y="44.20" font-size="8.3" text-anchor="middle" font-weight="bold" fill="#000" >Monocytes</text>
<text x="271.00" y="44.20" font-size="8.3" text-anchor="middle" font-weight="bold" fill="#000" >Dendritic Cells</text>
<line x1="92.50" y1="41.50" x2="92.50" y2="123.50" stroke="#9a9a9a" stroke-width="0.8" />
<line x1="128.20" y1="29.50" x2="128.20" y2="123.50" stroke="#9a9a9a" stroke-width="0.8" />
<line x1="235.60" y1="29.50" x2="235.60" y2="123.50" stroke="#9a9a9a" stroke-width="0.8" />
<line x1="306.60" y1="29.50" x2="306.60" y2="123.50" stroke="#9a9a9a" stroke-width="0.8" />
<rect x="43.50" y="121.10" width="1.60" height="1.60" fill="#111" />
<text x="0.00" y="0.00" font-size="7.3" text-anchor="start" font-weight="bold" fill="#000" transform="translate(54.78,123.1) rotate(-90)">GZMB+CX3CR1+</text>
<text x="0.00" y="0.00" font-size="7.3" text-anchor="start" font-weight="bold" fill="#000" transform="translate(63.71,123.1) rotate(-90)">Bim+</text>
<text x="0.00" y="0.00" font-size="7.3" text-anchor="start" font-weight="bold" fill="#000" transform="translate(72.63,123.1) rotate(-90)">Ki-67</text>
<text x="0.00" y="0.00" font-size="7.3" text-anchor="start" font-weight="bold" fill="#000" transform="translate(81.56,123.1) rotate(-90)">NKG7+</text>
<text x="0.00" y="0.00" font-size="7.3" text-anchor="start" font-weight="bold" fill="#000" transform="translate(90.49,123.1) rotate(-90)">PD-1+</text>
<text x="0.00" y="0.00" font-size="7.3" text-anchor="start" font-weight="bold" fill="#000" transform="translate(99.42,123.1) rotate(-90)">Central memory</text>
<text x="0.00" y="0.00" font-size="7.3" text-anchor="start" font-weight="bold" fill="#000" transform="translate(108.35,123.1) rotate(-90)">Effector</text>
<text x="0.00" y="0.00" font-size="7.3" text-anchor="start" font-weight="bold" fill="#000" transform="translate(117.28,123.1) rotate(-90)">Effector memory</text>
<text x="0.00" y="0.00" font-size="7.3" text-anchor="start" font-weight="bold" fill="#000" transform="translate(126.21,123.1) rotate(-90)">Naive</text>
<rect x="132.79" y="121.10" width="1.60" height="1.60" fill="#111" />
<text x="0.00" y="0.00" font-size="7.3" text-anchor="start" font-weight="bold" fill="#000" transform="translate(144.06,123.1) rotate(-90)">PD-L1+</text>
<text x="0.00" y="0.00" font-size="7.3" text-anchor="start" font-weight="bold" fill="#000" transform="translate(152.99,123.1) rotate(-90)">PD-1+</text>
<text x="0.00" y="0.00" font-size="7.3" text-anchor="start" font-weight="bold" fill="#000" transform="translate(161.92,123.1) rotate(-90)">Classical</text>
<text x="0.00" y="0.00" font-size="7.3" text-anchor="start" font-weight="bold" fill="#000" transform="translate(170.85,123.1) rotate(-90)">PD-L1 Classical</text>
<text x="0.00" y="0.00" font-size="7.3" text-anchor="start" font-weight="bold" fill="#000" transform="translate(179.78,123.1) rotate(-90)">Non-Classical</text>
<text x="0.00" y="0.00" font-size="7.3" text-anchor="start" font-weight="bold" fill="#000" transform="translate(188.71,123.1) rotate(-90)">PD-L1+</text>
<text x="0.00" y="0.00" font-size="7.3" text-anchor="start" font-weight="bold" fill="#000" transform="translate(197.64,123.1) rotate(-90)">Intermediate</text>
<text x="0.00" y="0.00" font-size="7.3" text-anchor="start" font-weight="bold" fill="#000" transform="translate(206.57,123.1) rotate(-90)">PD-L1+ Intermed.</text>
<text x="0.00" y="0.00" font-size="7.3" text-anchor="start" font-weight="bold" fill="#000" transform="translate(215.50,123.1) rotate(-90)">CCR2+</text>
<text x="0.00" y="0.00" font-size="7.3" text-anchor="start" font-weight="bold" fill="#000" transform="translate(224.42,123.1) rotate(-90)">CCR2+ CD14+</text>
<text x="0.00" y="0.00" font-size="7.3" text-anchor="start" font-weight="bold" fill="#000" transform="translate(233.35,123.1) rotate(-90)">CD14+ CD86+</text>
<rect x="239.93" y="121.10" width="1.60" height="1.60" fill="#111" />
<text x="0.00" y="0.00" font-size="7.3" text-anchor="start" font-weight="bold" fill="#000" transform="translate(251.21,123.1) rotate(-90)">PD-L1+</text>
<text x="0.00" y="0.00" font-size="7.3" text-anchor="start" font-weight="bold" fill="#000" transform="translate(260.14,123.1) rotate(-90)">PD-1+</text>
<text x="0.00" y="0.00" font-size="7.3" text-anchor="start" font-weight="bold" fill="#000" transform="translate(269.07,123.1) rotate(-90)">Plasmacytoid</text>
<text x="0.00" y="0.00" font-size="7.3" text-anchor="start" font-weight="bold" fill="#000" transform="translate(278.00,123.1) rotate(-90)">Myeloid</text>
<text x="0.00" y="0.00" font-size="7.3" text-anchor="start" font-weight="bold" fill="#000" transform="translate(286.93,123.1) rotate(-90)">Conventional 1</text>
<text x="0.00" y="0.00" font-size="7.3" text-anchor="start" font-weight="bold" fill="#000" transform="translate(295.85,123.1) rotate(-90)">Conventional 2</text>
<text x="0.00" y="0.00" font-size="7.3" text-anchor="start" font-weight="bold" fill="#000" transform="translate(304.78,123.1) rotate(-90)">CD86+</text>
<text x="0.00" y="0.00" font-size="7.3" text-anchor="start" font-weight="bold" fill="#000" transform="translate(313.71,123.1) rotate(-90)">CD4+ Treg</text>
<defs><linearGradient id="vg" x1="0" y1="1" x2="0" y2="0"><stop offset="0.0000" stop-color="#440154"/><stop offset="0.0625" stop-color="#48186a"/><stop offset="0.1250" stop-color="#472d7b"/><stop offset="0.1875" stop-color="#424086"/><stop offset="0.2500" stop-color="#3b528b"/><stop offset="0.3125" stop-color="#33638d"/><stop offset="0.3750" stop-color="#2c728e"/><stop offset="0.4375" stop-color="#26828e"/><stop offset="0.5000" stop-color="#21918c"/><stop offset="0.5625" stop-color="#1fa088"/><stop offset="0.6250" stop-color="#28ae80"/><stop offset="0.6875" stop-color="#3fbc73"/><stop offset="0.7500" stop-color="#5ec962"/><stop offset="0.8125" stop-color="#84d44b"/><stop offset="0.8750" stop-color="#addc30"/><stop offset="0.9375" stop-color="#d8e219"/><stop offset="1.0000" stop-color="#fde725"/></linearGradient></defs>
<rect x="14.20" y="53.30" width="12.30" height="63.40" fill="url(#vg)" stroke="#999" stroke-width="0.4"/>
<text x="27.80" y="56.20" font-size="5.8" text-anchor="start" font-weight="normal" fill="#8a8a8a" font-family="Liberation Serif">1</text>
<text x="27.80" y="71.40" font-size="5.8" text-anchor="start" font-weight="normal" fill="#8a8a8a" font-family="Liberation Serif">0.5</text>
<text x="27.80" y="87.30" font-size="5.8" text-anchor="start" font-weight="normal" fill="#8a8a8a" font-family="Liberation Serif">0</text>
<text x="27.80" y="102.90" font-size="5.8" text-anchor="start" font-weight="normal" fill="#8a8a8a" font-family="Liberation Serif">−0.5</text>
<text x="27.80" y="119.00" font-size="5.8" text-anchor="start" font-weight="normal" fill="#8a8a8a" font-family="Liberation Serif">−1</text>
<rect x="16.10" y="124.10" width="20.40" height="26.40" fill="#00c96a" />
<text x="26.30" y="140.40" font-size="8.7" text-anchor="middle" font-weight="bold" fill="#000" textLength="10.8" lengthAdjust="spacingAndGlyphs" stroke="#000" stroke-width="0.35">CR</text>
<rect x="16.10" y="150.50" width="20.40" height="70.50" fill="#0796dc" />
<text x="26.30" y="188.85" font-size="8.7" text-anchor="middle" font-weight="bold" fill="#000" textLength="10.8" lengthAdjust="spacingAndGlyphs" stroke="#000" stroke-width="0.35">PR</text>
<rect x="16.10" y="221.00" width="20.40" height="34.50" fill="#fdbd1a" />
<text x="26.30" y="241.35" font-size="8.7" text-anchor="middle" font-weight="bold" fill="#000" textLength="10.8" lengthAdjust="spacingAndGlyphs" stroke="#000" stroke-width="0.35">SD</text>
<rect x="16.10" y="255.50" width="20.40" height="27.10" fill="#e5002e" />
<text x="26.30" y="272.15" font-size="8.7" text-anchor="middle" font-weight="bold" fill="#000" textLength="10.8" lengthAdjust="spacingAndGlyphs" stroke="#000" stroke-width="0.35">PD</text>
<line x1="38.00" y1="137.31" x2="39.60" y2="137.31" stroke="#666" stroke-width="0.7" />
<line x1="38.00" y1="154.92" x2="39.60" y2="154.92" stroke="#666" stroke-width="0.7" />
<line x1="38.00" y1="172.53" x2="39.60" y2="172.53" stroke="#666" stroke-width="0.7" />
<line x1="38.00" y1="190.14" x2="39.60" y2="190.14" stroke="#666" stroke-width="0.7" />
<line x1="38.00" y1="207.75" x2="39.60" y2="207.75" stroke="#666" stroke-width="0.7" />
<line x1="38.00" y1="225.36" x2="39.60" y2="225.36" stroke="#666" stroke-width="0.7" />
<line x1="38.00" y1="242.98" x2="39.60" y2="242.98" stroke="#666" stroke-width="0.7" />
<line x1="38.00" y1="260.59" x2="39.60" y2="260.59" stroke="#666" stroke-width="0.7" />
<line x1="38.00" y1="278.20" x2="39.60" y2="278.20" stroke="#666" stroke-width="0.7" />
<line x1="44.55" y1="283.20" x2="44.55" y2="284.90" stroke="#666" stroke-width="0.7" />
<line x1="62.34" y1="283.20" x2="62.34" y2="284.90" stroke="#666" stroke-width="0.7" />
<line x1="80.14" y1="283.20" x2="80.14" y2="284.90" stroke="#666" stroke-width="0.7" />
<line x1="97.93" y1="283.20" x2="97.93" y2="284.90" stroke="#666" stroke-width="0.7" />
<line x1="115.72" y1="283.20" x2="115.72" y2="284.90" stroke="#666" stroke-width="0.7" />
<line x1="133.52" y1="283.20" x2="133.52" y2="284.90" stroke="#666" stroke-width="0.7" />
<line x1="151.31" y1="283.20" x2="151.31" y2="284.90" stroke="#666" stroke-width="0.7" />
<line x1="169.10" y1="283.20" x2="169.10" y2="284.90" stroke="#666" stroke-width="0.7" />
<line x1="186.90" y1="283.20" x2="186.90" y2="284.90" stroke="#666" stroke-width="0.7" />
<line x1="204.69" y1="283.20" x2="204.69" y2="284.90" stroke="#666" stroke-width="0.7" />
<line x1="222.48" y1="283.20" x2="222.48" y2="284.90" stroke="#666" stroke-width="0.7" />
<line x1="240.28" y1="283.20" x2="240.28" y2="284.90" stroke="#666" stroke-width="0.7" />
<line x1="258.07" y1="283.20" x2="258.07" y2="284.90" stroke="#666" stroke-width="0.7" />
<line x1="275.86" y1="283.20" x2="275.86" y2="284.90" stroke="#666" stroke-width="0.7" />
<line x1="293.66" y1="283.20" x2="293.66" y2="284.90" stroke="#666" stroke-width="0.7" />
<line x1="311.45" y1="283.20" x2="311.45" y2="284.90" stroke="#666" stroke-width="0.7" />
<line x1="25.60" y1="69.40" x2="26.60" y2="69.40" stroke="#444" stroke-width="0.6" />
<line x1="25.60" y1="85.30" x2="26.60" y2="85.30" stroke="#444" stroke-width="0.6" />
<line x1="25.60" y1="100.90" x2="26.60" y2="100.90" stroke="#444" stroke-width="0.6" />
<text x="512.00" y="11.20" font-size="15.3" text-anchor="middle" font-weight="bold" fill="#000" >Overall Survival (OS) hazard ratio (HR)</text>
<text x="512.00" y="29.00" font-size="15.3" text-anchor="middle" font-weight="bold" fill="#000" >by change in immune cell subpopulation</text>
<text x="512.00" y="48.30" font-size="15.3" text-anchor="middle" font-weight="bold" fill="#000" >from baseline to ICI re-challenge cycle 2</text>
<line x1="567.40" y1="58.00" x2="567.40" y2="238.00" stroke="#d8d8d8" stroke-width="0.7" />
<text x="360.90" y="57.00" font-size="7.15" text-anchor="start" font-weight="normal" fill="#000" >Cell Type</text>
<text x="360.90" y="63.00" font-size="7.15" text-anchor="start" font-weight="normal" fill="#000" >Non-classical monocyte</text>
<line x1="447.00" y1="61.30" x2="540.40" y2="61.30" stroke="#444" stroke-width="0.9" />
<rect x="491.65" y="59.65" width="3.30" height="3.30" fill="#000" />
<text x="360.90" y="68.84" font-size="7.15" text-anchor="start" font-weight="normal" fill="#000" >Dendritic Cells</text>
<line x1="470.40" y1="67.11" x2="549.10" y2="67.11" stroke="#999" stroke-width="0.9" />
<rect x="507.05" y="64.76" width="4.70" height="4.70" fill="#000" />
<text x="360.90" y="74.67" font-size="7.15" text-anchor="start" font-weight="normal" fill="#000" >CD8+Tef</text>
<line x1="464.50" y1="72.92" x2="558.00" y2="72.92" stroke="#999" stroke-width="0.9" />
<rect x="508.95" y="71.07" width="3.70" height="3.70" fill="#000" />
<text x="360.90" y="80.51" font-size="7.15" text-anchor="start" font-weight="normal" fill="#000" >GzmB+CX3CR1+CD8+CD11ahi</text>
<line x1="470.40" y1="78.73" x2="552.80" y2="78.73" stroke="#777" stroke-width="0.9" />
<rect x="509.95" y="77.48" width="2.50" height="2.50" fill="#000" />
<text x="360.90" y="86.35" font-size="7.15" text-anchor="start" font-weight="normal" fill="#000" >CD8+Tem</text>
<line x1="458.20" y1="84.54" x2="573.60" y2="84.54" stroke="#444" stroke-width="0.9" />
<rect x="511.85" y="83.29" width="2.50" height="2.50" fill="#000" />
<text x="360.90" y="92.19" font-size="7.15" text-anchor="start" font-weight="normal" fill="#000" >PD-1+/CD8+CD11ahi</text>
<line x1="480.90" y1="90.35" x2="554.90" y2="90.35" stroke="#444" stroke-width="0.9" />
<rect x="515.10" y="87.85" width="5.00" height="5.00" fill="#000" />
<text x="360.90" y="98.02" font-size="7.15" text-anchor="start" font-weight="normal" fill="#000" >mDCs</text>
<line x1="494.90" y1="96.16" x2="572.00" y2="96.16" stroke="#777" stroke-width="0.9" />
<rect x="531.90" y="94.66" width="3.00" height="3.00" fill="#000" />
<text x="360.90" y="103.86" font-size="7.15" text-anchor="start" font-weight="normal" fill="#000" >PD-1+ DC</text>
<line x1="499.60" y1="101.97" x2="567.30" y2="101.97" stroke="#999" stroke-width="0.9" />
<rect x="532.15" y="100.72" width="2.50" height="2.50" fill="#000" />
<text x="360.90" y="109.70" font-size="7.15" text-anchor="start" font-weight="normal" fill="#000" >PD-L1+ Intermediate monocyte</text>
<line x1="500.70" y1="107.78" x2="568.00" y2="107.78" stroke="#999" stroke-width="0.9" />
<rect x="532.40" y="106.28" width="3.00" height="3.00" fill="#000" />
<text x="360.90" y="115.53" font-size="7.15" text-anchor="start" font-weight="normal" fill="#000" >NKG7+/CD8+CD11ahi</text>
<line x1="498.90" y1="113.59" x2="569.60" y2="113.59" stroke="#777" stroke-width="0.9" />
<rect x="532.75" y="112.34" width="2.50" height="2.50" fill="#000" />
<text x="360.90" y="121.37" font-size="7.15" text-anchor="start" font-weight="normal" fill="#000" >Ki-67+/CD8+CD11ahi</text>
<line x1="506.10" y1="119.40" x2="574.30" y2="119.40" stroke="#444" stroke-width="0.9" />
<rect x="538.75" y="118.15" width="2.50" height="2.50" fill="#000" />
<text x="360.90" y="127.21" font-size="7.15" text-anchor="start" font-weight="normal" fill="#000" >CD8+CD11ahi</text>
<line x1="505.40" y1="125.21" x2="576.70" y2="125.21" stroke="#444" stroke-width="0.9" />
<rect x="538.90" y="123.71" width="3.00" height="3.00" fill="#000" />
<text x="360.90" y="133.04" font-size="7.15" text-anchor="start" font-weight="normal" fill="#000" >PD-L1+ Non-classical monocyte</text>
<line x1="507.30" y1="131.02" x2="577.80" y2="131.02" stroke="#999" stroke-width="0.9" />
<rect x="540.50" y="129.52" width="3.00" height="3.00" fill="#000" />
<text x="360.90" y="138.88" font-size="7.15" text-anchor="start" font-weight="normal" fill="#000" >PD-L1+ Classical monocyte</text>
<line x1="508.00" y1="136.83" x2="578.90" y2="136.83" stroke="#999" stroke-width="0.9" />
<rect x="541.20" y="134.83" width="4.00" height="4.00" fill="#000" />
<text x="360.90" y="144.72" font-size="7.15" text-anchor="start" font-weight="normal" fill="#000" >PD-L1+ Monocyte</text>
<line x1="514.00" y1="142.64" x2="581.00" y2="142.64" stroke="#999" stroke-width="0.9" />
<rect x="545.80" y="141.14" width="3.00" height="3.00" fill="#000" />
<text x="360.90" y="150.55" font-size="7.15" text-anchor="start" font-weight="normal" fill="#000" >CD8+Tcm</text>
<line x1="516.70" y1="148.45" x2="583.30" y2="148.45" stroke="#444" stroke-width="0.9" />
<rect x="547.50" y="146.45" width="4.00" height="4.00" fill="#000" />
<text x="360.90" y="156.39" font-size="7.15" text-anchor="start" font-weight="normal" fill="#000" >Intermediate monocyte</text>
<line x1="521.60" y1="154.26" x2="589.10" y2="154.26" stroke="#444" stroke-width="0.9" />
<rect x="553.05" y="152.01" width="4.50" height="4.50" fill="#000" />
<text x="360.90" y="162.23" font-size="7.15" text-anchor="start" font-weight="normal" fill="#000" >CD86+ DC</text>
<line x1="548.50" y1="160.07" x2="618.70" y2="160.07" stroke="#999" stroke-width="0.9" />
<rect x="580.80" y="157.57" width="5.00" height="5.00" fill="#000" />
<text x="360.90" y="168.07" font-size="7.15" text-anchor="start" font-weight="normal" fill="#000" >PD-L1+DC</text>
<line x1="555.30" y1="165.88" x2="623.30" y2="165.88" stroke="#999" stroke-width="0.9" />
<rect x="587.35" y="164.13" width="3.50" height="3.50" fill="#000" />
<text x="360.90" y="173.90" font-size="7.15" text-anchor="start" font-weight="normal" fill="#000" >CCR2+ CD14+</text>
<line x1="561.20" y1="171.69" x2="634.70" y2="171.69" stroke="#777" stroke-width="0.9" />
<rect x="595.95" y="169.94" width="3.50" height="3.50" fill="#000" />
<text x="360.90" y="179.74" font-size="7.15" text-anchor="start" font-weight="normal" fill="#000" >cDC1</text>
<line x1="563.60" y1="177.50" x2="635.90" y2="177.50" stroke="#444" stroke-width="0.9" />
<rect x="597.35" y="175.25" width="4.50" height="4.50" fill="#000" />
<text x="360.90" y="185.58" font-size="7.15" text-anchor="start" font-weight="normal" fill="#000" >CCR2+ Monocyte</text>
<line x1="566.10" y1="183.31" x2="636.40" y2="183.31" stroke="#444" stroke-width="0.9" />
<rect x="598.65" y="181.06" width="4.50" height="4.50" fill="#000" />
<text x="360.90" y="191.41" font-size="7.15" text-anchor="start" font-weight="normal" fill="#000" >Classical monocyte</text>
<line x1="564.00" y1="189.12" x2="639.30" y2="189.12" stroke="#777" stroke-width="0.9" />
<rect x="599.15" y="186.87" width="4.50" height="4.50" fill="#000" />
<text x="360.90" y="197.25" font-size="7.15" text-anchor="start" font-weight="normal" fill="#000" >pDCs</text>
<line x1="570.10" y1="194.93" x2="639.80" y2="194.93" stroke="#999" stroke-width="0.9" />
<rect x="602.90" y="192.93" width="4.00" height="4.00" fill="#000" />
<text x="360.90" y="203.09" font-size="7.15" text-anchor="start" font-weight="normal" fill="#000" >cDC2</text>
<line x1="574.10" y1="200.74" x2="642.00" y2="200.74" stroke="#999" stroke-width="0.9" />
<rect x="605.85" y="198.99" width="3.50" height="3.50" fill="#000" />
<text x="360.90" y="208.92" font-size="7.15" text-anchor="start" font-weight="normal" fill="#000" >PD-1+ Monocyte</text>
<line x1="550.30" y1="206.55" x2="670.80" y2="206.55" stroke="#444" stroke-width="0.9" />
<rect x="608.05" y="204.30" width="4.50" height="4.50" fill="#000" />
<text x="360.90" y="214.76" font-size="7.15" text-anchor="start" font-weight="normal" fill="#000" >Monocytes</text>
<line x1="576.40" y1="212.36" x2="650.00" y2="212.36" stroke="#444" stroke-width="0.9" />
<rect x="612.00" y="211.36" width="2.00" height="2.00" fill="#000" />
<text x="360.90" y="220.60" font-size="7.15" text-anchor="start" font-weight="normal" fill="#000" >Bim+/CD8+CD11ahi</text>
<line x1="578.20" y1="218.17" x2="656.80" y2="218.17" stroke="#444" stroke-width="0.9" />
<rect x="614.55" y="215.92" width="4.50" height="4.50" fill="#000" />
<text x="360.90" y="226.44" font-size="7.15" text-anchor="start" font-weight="normal" fill="#000" >CD8+Tn</text>
<line x1="573.40" y1="223.98" x2="666.60" y2="223.98" stroke="#999" stroke-width="0.9" />
<rect x="618.25" y="222.23" width="3.50" height="3.50" fill="#000" />
<text x="360.90" y="232.27" font-size="7.15" text-anchor="start" font-weight="normal" fill="#000" >CD14+ CD86+</text>
<line x1="564.30" y1="229.79" x2="686.00" y2="229.79" stroke="#999" stroke-width="0.9" />
<rect x="623.05" y="228.04" width="3.50" height="3.50" fill="#000" />
<text x="360.90" y="238.11" font-size="7.15" text-anchor="start" font-weight="normal" fill="#000" >Treg</text>
<line x1="588.00" y1="235.60" x2="680.60" y2="235.60" stroke="#444" stroke-width="0.9" />
<rect x="631.55" y="233.35" width="4.50" height="4.50" fill="#000" />
<line x1="446.00" y1="238.50" x2="669.00" y2="238.50" stroke="#555" stroke-width="0.9" />
<line x1="446.20" y1="238.50" x2="446.20" y2="241.00" stroke="#888" stroke-width="0.7" />
<text x="446.20" y="249.20" font-size="7.3" text-anchor="middle" font-weight="bold" fill="#222" >0.016</text>
<line x1="466.40" y1="238.50" x2="466.40" y2="241.00" stroke="#888" stroke-width="0.7" />
<text x="466.40" y="249.20" font-size="7.3" text-anchor="middle" font-weight="bold" fill="#222" >0.031</text>
<line x1="486.60" y1="238.50" x2="486.60" y2="241.00" stroke="#888" stroke-width="0.7" />
<text x="486.60" y="249.20" font-size="7.3" text-anchor="middle" font-weight="bold" fill="#222" >0.062</text>
<line x1="506.80" y1="238.50" x2="506.80" y2="241.00" stroke="#888" stroke-width="0.7" />
<text x="506.80" y="249.20" font-size="7.3" text-anchor="middle" font-weight="bold" fill="#222" >0.125</text>
<line x1="527.00" y1="238.50" x2="527.00" y2="241.00" stroke="#888" stroke-width="0.7" />
<text x="527.00" y="249.20" font-size="7.3" text-anchor="middle" font-weight="bold" fill="#222" >0.25</text>
<line x1="547.20" y1="238.50" x2="547.20" y2="241.00" stroke="#888" stroke-width="0.7" />
<text x="547.20" y="249.20" font-size="7.3" text-anchor="middle" font-weight="bold" fill="#222" >0.5</text>
<line x1="567.40" y1="238.50" x2="567.40" y2="241.00" stroke="#888" stroke-width="0.7" />
<text x="567.40" y="249.20" font-size="7.3" text-anchor="middle" font-weight="bold" fill="#222" >1</text>
<line x1="587.60" y1="238.50" x2="587.60" y2="241.00" stroke="#888" stroke-width="0.7" />
<text x="587.60" y="249.20" font-size="7.3" text-anchor="middle" font-weight="bold" fill="#222" >2.0</text>
<line x1="607.80" y1="238.50" x2="607.80" y2="241.00" stroke="#888" stroke-width="0.7" />
<text x="607.80" y="249.20" font-size="7.3" text-anchor="middle" font-weight="bold" fill="#222" >4.0</text>
<line x1="628.00" y1="238.50" x2="628.00" y2="241.00" stroke="#888" stroke-width="0.7" />
<text x="628.00" y="249.20" font-size="7.3" text-anchor="middle" font-weight="bold" fill="#222" >8.0</text>
<line x1="648.20" y1="238.50" x2="648.20" y2="241.00" stroke="#888" stroke-width="0.7" />
<text x="648.20" y="249.20" font-size="7.3" text-anchor="middle" font-weight="bold" fill="#222" >16.0</text>
<line x1="668.40" y1="238.50" x2="668.40" y2="241.00" stroke="#888" stroke-width="0.7" />
<text x="668.40" y="249.20" font-size="7.3" text-anchor="middle" font-weight="bold" fill="#222" >32.0</text>
<text x="567.40" y="258.30" font-size="9.8" text-anchor="middle" font-weight="normal" fill="#222" >HR</text>
<line x1="446.00" y1="261.00" x2="564.00" y2="261.00" stroke="#222" stroke-width="2" />
<polygon points="439,261 447,258 447,264" fill="#222"/>
<line x1="573.50" y1="261.00" x2="676.00" y2="261.00" stroke="#222" stroke-width="2" />
<polygon points="681,261 673,258 673,264" fill="#222"/>
<text x="508.00" y="276.00" font-size="12.5" text-anchor="middle" font-weight="normal" fill="#222" >Increased survival</text>
<text x="619.50" y="276.00" font-size="12.5" text-anchor="middle" font-weight="normal" fill="#222" >Increased death</text>
<g transform="translate(0,0)">
<text x="166.70" y="306.90" font-size="13.9" text-anchor="middle" font-weight="bold" fill="#000" >Overall Survival (OS) by change in</text>
<text x="166.70" y="323.10" font-size="13.9" text-anchor="middle" font-weight="bold" fill="#000" >GZMB<tspan font-size="9" baseline-shift="5">+</tspan>CX3CR1<tspan font-size="9" baseline-shift="5">+</tspan>CD11a<tspan font-size="9" baseline-shift="5">hi</tspan> CD8 T cells</text>
<line x1="78.80" y1="332.80" x2="78.80" y2="488.90" stroke="#333" stroke-width="1.1" />
<line x1="78.30" y1="488.40" x2="300.70" y2="488.40" stroke="#333" stroke-width="1.1" />
<line x1="76.20" y1="481.20" x2="78.80" y2="481.20" stroke="#333" stroke-width="1" />
<text x="74.50" y="487.10" font-size="16.4" text-anchor="end" font-weight="normal" fill="#111" >0</text>
<line x1="76.20" y1="445.75" x2="78.80" y2="445.75" stroke="#333" stroke-width="1" />
<text x="74.50" y="451.65" font-size="16.4" text-anchor="end" font-weight="normal" fill="#111" >25</text>
<line x1="76.20" y1="410.30" x2="78.80" y2="410.30" stroke="#333" stroke-width="1" />
<text x="74.50" y="416.20" font-size="16.4" text-anchor="end" font-weight="normal" fill="#111" >50</text>
<line x1="76.20" y1="374.85" x2="78.80" y2="374.85" stroke="#333" stroke-width="1" />
<text x="74.50" y="380.75" font-size="16.4" text-anchor="end" font-weight="normal" fill="#111" >75</text>
<line x1="76.20" y1="339.40" x2="78.80" y2="339.40" stroke="#333" stroke-width="1" />
<text x="74.50" y="345.30" font-size="16.4" text-anchor="end" font-weight="normal" fill="#111" >100</text>
<line x1="89.10" y1="488.40" x2="89.10" y2="491.00" stroke="#333" stroke-width="1" />
<text x="89.10" y="504.60" font-size="15.6" text-anchor="middle" font-weight="normal" fill="#111" >0</text>
<line x1="129.60" y1="488.40" x2="129.60" y2="491.00" stroke="#333" stroke-width="1" />
<text x="129.60" y="504.60" font-size="15.6" text-anchor="middle" font-weight="normal" fill="#111" >6</text>
<line x1="170.10" y1="488.40" x2="170.10" y2="491.00" stroke="#333" stroke-width="1" />
<text x="170.10" y="504.60" font-size="15.6" text-anchor="middle" font-weight="normal" fill="#111" >12</text>
<line x1="210.60" y1="488.40" x2="210.60" y2="491.00" stroke="#333" stroke-width="1" />
<text x="210.60" y="504.60" font-size="15.6" text-anchor="middle" font-weight="normal" fill="#111" >18</text>
<line x1="251.10" y1="488.40" x2="251.10" y2="491.00" stroke="#333" stroke-width="1" />
<text x="251.10" y="504.60" font-size="15.6" text-anchor="middle" font-weight="normal" fill="#111" >24</text>
<line x1="291.60" y1="488.40" x2="291.60" y2="491.00" stroke="#333" stroke-width="1" />
<text x="291.60" y="504.60" font-size="15.6" text-anchor="middle" font-weight="normal" fill="#111" >30</text>
<text x="190.30" y="521.10" font-size="14.1" text-anchor="middle" font-weight="normal" fill="#111" >Months</text>
<text x="0.00" y="0.00" font-size="16.2" text-anchor="middle" font-weight="normal" fill="#111" transform="translate(42.3,410.6) rotate(-90)">Survival probability (%)</text>
<g transform="translate(0,0)">
<line x1="236.90" y1="347.40" x2="280.80" y2="347.40" stroke="#c4553e" stroke-width="2.2" />
<line x1="237.30" y1="364.60" x2="280.80" y2="364.60" stroke="#1a9aa5" stroke-width="2.4" stroke-dasharray="8.7,8.8"/>
<text x="286.90" y="351.90" font-size="12.5" text-anchor="start" font-weight="normal" fill="#111" >High</text>
<text x="287.20" y="369.00" font-size="12.5" text-anchor="start" font-weight="normal" fill="#111" >Low</text>
</g>
<text x="89.10" y="485.80" font-size="10.7" text-anchor="start" font-weight="normal" fill="#111" >p = 0.0022</text>
<path d="M89.10,339.40 H126.60 V351.21 H132.00 V363.04 H190.40 V374.85 H216.00 V390.04 H221.50 V405.24 H229.50 V420.42 H281.70" fill="none" stroke="#c4553e" stroke-width="1.5"/>
<path d="M89.10,339.40 H120.00 V363.04 H124.00 V386.66 H149.60 V410.30 H187.90 V433.94 H192.20 V457.56 H206.60 V481.20 H206.60" fill="none" stroke="#1a9aa5" stroke-width="1.5" stroke-dasharray="5,4.5"/>
<line x1="198.80" y1="372.45" x2="198.80" y2="377.25" stroke="#c4553e" stroke-width="1.1" />
<line x1="200.70" y1="372.45" x2="200.70" y2="377.25" stroke="#c4553e" stroke-width="1.1" />
<line x1="230.80" y1="418.02" x2="230.80" y2="422.82" stroke="#c4553e" stroke-width="1.1" />
<line x1="239.30" y1="418.02" x2="239.30" y2="422.82" stroke="#c4553e" stroke-width="1.1" />
<line x1="281.70" y1="418.02" x2="281.70" y2="422.82" stroke="#c4553e" stroke-width="1.1" />
<text x="74.70" y="541.90" font-size="11.9" text-anchor="start" font-weight="normal" fill="#111" >Number at risk</text>
<line x1="74.60" y1="548.20" x2="74.60" y2="567.00" stroke="#333" stroke-width="1" />
<line x1="74.10" y1="566.50" x2="296.00" y2="566.50" stroke="#333" stroke-width="1" />
<line x1="72.80" y1="553.60" x2="74.60" y2="553.60" stroke="#333" stroke-width="1" />
<line x1="72.80" y1="561.30" x2="74.60" y2="561.30" stroke="#333" stroke-width="1" />
<text x="70.20" y="556.70" font-size="8.9" text-anchor="end" font-weight="normal" fill="#c4553e" >High</text>
<text x="70.20" y="564.40" font-size="8.9" text-anchor="end" font-weight="normal" fill="#1a9aa5" >Low</text>
<text x="0.00" y="0.00" font-size="10.2" text-anchor="middle" font-weight="normal" fill="#111" transform="translate(42.3,557.2) rotate(-90)">Strata</text>
<line x1="84.30" y1="566.50" x2="84.30" y2="568.60" stroke="#333" stroke-width="1" />
<text x="84.30" y="577.60" font-size="8.4" text-anchor="middle" font-weight="normal" fill="#111" >0</text>
<text x="84.30" y="557.20" font-size="9.2" text-anchor="middle" font-weight="normal" fill="#111" >12</text>
<text x="84.30" y="565.10" font-size="9.2" text-anchor="middle" font-weight="normal" fill="#111" >6</text>
<line x1="124.74" y1="566.50" x2="124.74" y2="568.60" stroke="#333" stroke-width="1" />
<text x="124.74" y="577.60" font-size="8.4" text-anchor="middle" font-weight="normal" fill="#111" >6</text>
<text x="124.74" y="557.20" font-size="9.2" text-anchor="middle" font-weight="normal" fill="#111" >11</text>
<text x="124.74" y="565.10" font-size="9.2" text-anchor="middle" font-weight="normal" fill="#111" >4</text>
<line x1="165.18" y1="566.50" x2="165.18" y2="568.60" stroke="#333" stroke-width="1" />
<text x="165.18" y="577.60" font-size="8.4" text-anchor="middle" font-weight="normal" fill="#111" >12</text>
<text x="165.18" y="557.20" font-size="9.2" text-anchor="middle" font-weight="normal" fill="#111" >10</text>
<text x="165.18" y="565.10" font-size="9.2" text-anchor="middle" font-weight="normal" fill="#111" >3</text>
<line x1="205.62" y1="566.50" x2="205.62" y2="568.60" stroke="#333" stroke-width="1" />
<text x="205.62" y="577.60" font-size="8.4" text-anchor="middle" font-weight="normal" fill="#111" >18</text>
<text x="205.62" y="557.20" font-size="9.2" text-anchor="middle" font-weight="normal" fill="#111" >7</text>
<text x="205.62" y="565.10" font-size="9.2" text-anchor="middle" font-weight="normal" fill="#111" >0</text>
<line x1="246.06" y1="566.50" x2="246.06" y2="568.60" stroke="#333" stroke-width="1" />
<text x="246.06" y="577.60" font-size="8.4" text-anchor="middle" font-weight="normal" fill="#111" >24</text>
<text x="246.06" y="557.20" font-size="9.2" text-anchor="middle" font-weight="normal" fill="#111" >1</text>
<text x="246.06" y="565.10" font-size="9.2" text-anchor="middle" font-weight="normal" fill="#111" >0</text>
<line x1="286.50" y1="566.50" x2="286.50" y2="568.60" stroke="#333" stroke-width="1" />
<text x="286.50" y="577.60" font-size="8.4" text-anchor="middle" font-weight="normal" fill="#111" >30</text>
<text x="286.50" y="557.20" font-size="9.2" text-anchor="middle" font-weight="normal" fill="#111" >0</text>
<text x="286.50" y="565.10" font-size="9.2" text-anchor="middle" font-weight="normal" fill="#111" >0</text>
<text x="185.40" y="588.80" font-size="10" text-anchor="middle" font-weight="normal" fill="#111" >Months</text>
</g>
<g transform="translate(346.6,0)">
<text x="166.70" y="306.90" font-size="13.9" text-anchor="middle" font-weight="bold" fill="#000" >Overall Survival (OS) by change</text>
<text x="166.70" y="323.10" font-size="13.9" text-anchor="middle" font-weight="bold" fill="#000" >in Regulatory T cells</text>
<line x1="78.80" y1="332.80" x2="78.80" y2="488.90" stroke="#333" stroke-width="1.1" />
<line x1="78.30" y1="488.40" x2="300.70" y2="488.40" stroke="#333" stroke-width="1.1" />
<line x1="76.20" y1="481.20" x2="78.80" y2="481.20" stroke="#333" stroke-width="1" />
<text x="74.50" y="487.10" font-size="16.4" text-anchor="end" font-weight="normal" fill="#111" >0</text>
<line x1="76.20" y1="445.75" x2="78.80" y2="445.75" stroke="#333" stroke-width="1" />
<text x="74.50" y="451.65" font-size="16.4" text-anchor="end" font-weight="normal" fill="#111" >25</text>
<line x1="76.20" y1="410.30" x2="78.80" y2="410.30" stroke="#333" stroke-width="1" />
<text x="74.50" y="416.20" font-size="16.4" text-anchor="end" font-weight="normal" fill="#111" >50</text>
<line x1="76.20" y1="374.85" x2="78.80" y2="374.85" stroke="#333" stroke-width="1" />
<text x="74.50" y="380.75" font-size="16.4" text-anchor="end" font-weight="normal" fill="#111" >75</text>
<line x1="76.20" y1="339.40" x2="78.80" y2="339.40" stroke="#333" stroke-width="1" />
<text x="74.50" y="345.30" font-size="16.4" text-anchor="end" font-weight="normal" fill="#111" >100</text>
<line x1="89.10" y1="488.40" x2="89.10" y2="491.00" stroke="#333" stroke-width="1" />
<text x="89.10" y="504.60" font-size="15.6" text-anchor="middle" font-weight="normal" fill="#111" >0</text>
<line x1="129.60" y1="488.40" x2="129.60" y2="491.00" stroke="#333" stroke-width="1" />
<text x="129.60" y="504.60" font-size="15.6" text-anchor="middle" font-weight="normal" fill="#111" >6</text>
<line x1="170.10" y1="488.40" x2="170.10" y2="491.00" stroke="#333" stroke-width="1" />
<text x="170.10" y="504.60" font-size="15.6" text-anchor="middle" font-weight="normal" fill="#111" >12</text>
<line x1="210.60" y1="488.40" x2="210.60" y2="491.00" stroke="#333" stroke-width="1" />
<text x="210.60" y="504.60" font-size="15.6" text-anchor="middle" font-weight="normal" fill="#111" >18</text>
<line x1="251.10" y1="488.40" x2="251.10" y2="491.00" stroke="#333" stroke-width="1" />
<text x="251.10" y="504.60" font-size="15.6" text-anchor="middle" font-weight="normal" fill="#111" >24</text>
<line x1="291.60" y1="488.40" x2="291.60" y2="491.00" stroke="#333" stroke-width="1" />
<text x="291.60" y="504.60" font-size="15.6" text-anchor="middle" font-weight="normal" fill="#111" >30</text>
<text x="190.30" y="521.10" font-size="14.1" text-anchor="middle" font-weight="normal" fill="#111" >Months</text>
<text x="0.00" y="0.00" font-size="16.2" text-anchor="middle" font-weight="normal" fill="#111" transform="translate(42.3,410.6) rotate(-90)">Survival probability (%)</text>
<g transform="translate(0.7,0)">
<line x1="236.90" y1="347.40" x2="280.80" y2="347.40" stroke="#c4553e" stroke-width="2.2" />
<line x1="237.30" y1="364.60" x2="280.80" y2="364.60" stroke="#1a9aa5" stroke-width="2.4" stroke-dasharray="8.7,8.8"/>
<text x="286.90" y="351.90" font-size="12.5" text-anchor="start" font-weight="normal" fill="#111" >High</text>
<text x="287.20" y="369.00" font-size="12.5" text-anchor="start" font-weight="normal" fill="#111" >Low</text>
</g>
<text x="89.10" y="485.80" font-size="10.7" text-anchor="start" font-weight="normal" fill="#111" >p = 0.00091</text>
<path d="M89.10,339.40 H119.80 V355.15 H126.30 V370.91 H131.80 V386.66 H149.30 V402.42 H188.00 V418.18 H190.90 V433.94 H192.10 V449.69 H206.90 V465.45 H221.90 V481.20 H221.90" fill="none" stroke="#c4553e" stroke-width="1.5"/>
<path d="M89.10,339.40 H123.80 V355.15 H215.70 V376.17 H229.60 V397.17 H281.40" fill="none" stroke="#1a9aa5" stroke-width="1.5" stroke-dasharray="5,4.5"/>
<line x1="199.20" y1="352.75" x2="199.20" y2="357.55" stroke="#1a9aa5" stroke-width="1.1" />
<line x1="201.00" y1="352.75" x2="201.00" y2="357.55" stroke="#1a9aa5" stroke-width="1.1" />
<line x1="231.00" y1="394.77" x2="231.00" y2="399.57" stroke="#1a9aa5" stroke-width="1.1" />
<line x1="239.40" y1="394.77" x2="239.40" y2="399.57" stroke="#1a9aa5" stroke-width="1.1" />
<line x1="281.40" y1="394.77" x2="281.40" y2="399.57" stroke="#1a9aa5" stroke-width="1.1" />
<text x="74.70" y="541.90" font-size="11.9" text-anchor="start" font-weight="normal" fill="#111" >Number at risk</text>
<line x1="74.60" y1="548.20" x2="74.60" y2="567.00" stroke="#333" stroke-width="1" />
<line x1="74.10" y1="566.50" x2="296.00" y2="566.50" stroke="#333" stroke-width="1" />
<line x1="72.80" y1="553.60" x2="74.60" y2="553.60" stroke="#333" stroke-width="1" />
<line x1="72.80" y1="561.30" x2="74.60" y2="561.30" stroke="#333" stroke-width="1" />
<text x="70.20" y="556.70" font-size="8.9" text-anchor="end" font-weight="normal" fill="#c4553e" >High</text>
<text x="70.20" y="564.40" font-size="8.9" text-anchor="end" font-weight="normal" fill="#1a9aa5" >Low</text>
<text x="0.00" y="0.00" font-size="10.2" text-anchor="middle" font-weight="normal" fill="#111" transform="translate(42.3,557.2) rotate(-90)">Strata</text>
<line x1="84.30" y1="566.50" x2="84.30" y2="568.60" stroke="#333" stroke-width="1" />
<text x="84.30" y="577.60" font-size="8.4" text-anchor="middle" font-weight="normal" fill="#111" >0</text>
<text x="84.30" y="557.20" font-size="9.2" text-anchor="middle" font-weight="normal" fill="#111" >9</text>
<text x="84.30" y="565.10" font-size="9.2" text-anchor="middle" font-weight="normal" fill="#111" >9</text>
<line x1="124.74" y1="566.50" x2="124.74" y2="568.60" stroke="#333" stroke-width="1" />
<text x="124.74" y="577.60" font-size="8.4" text-anchor="middle" font-weight="normal" fill="#111" >6</text>
<text x="124.74" y="557.20" font-size="9.2" text-anchor="middle" font-weight="normal" fill="#111" >7</text>
<text x="124.74" y="565.10" font-size="9.2" text-anchor="middle" font-weight="normal" fill="#111" >8</text>
<line x1="165.18" y1="566.50" x2="165.18" y2="568.60" stroke="#333" stroke-width="1" />
<text x="165.18" y="577.60" font-size="8.4" text-anchor="middle" font-weight="normal" fill="#111" >12</text>
<text x="165.18" y="557.20" font-size="9.2" text-anchor="middle" font-weight="normal" fill="#111" >5</text>
<text x="165.18" y="565.10" font-size="9.2" text-anchor="middle" font-weight="normal" fill="#111" >8</text>
<line x1="205.62" y1="566.50" x2="205.62" y2="568.60" stroke="#333" stroke-width="1" />
<text x="205.62" y="577.60" font-size="8.4" text-anchor="middle" font-weight="normal" fill="#111" >18</text>
<text x="205.62" y="557.20" font-size="9.2" text-anchor="middle" font-weight="normal" fill="#111" >1</text>
<text x="205.62" y="565.10" font-size="9.2" text-anchor="middle" font-weight="normal" fill="#111" >6</text>
<line x1="246.06" y1="566.50" x2="246.06" y2="568.60" stroke="#333" stroke-width="1" />
<text x="246.06" y="577.60" font-size="8.4" text-anchor="middle" font-weight="normal" fill="#111" >24</text>
<text x="246.06" y="557.20" font-size="9.2" text-anchor="middle" font-weight="normal" fill="#111" >0</text>
<text x="246.06" y="565.10" font-size="9.2" text-anchor="middle" font-weight="normal" fill="#111" >1</text>
<line x1="286.50" y1="566.50" x2="286.50" y2="568.60" stroke="#333" stroke-width="1" />
<text x="286.50" y="577.60" font-size="8.4" text-anchor="middle" font-weight="normal" fill="#111" >30</text>
<text x="286.50" y="557.20" font-size="9.2" text-anchor="middle" font-weight="normal" fill="#111" >0</text>
<text x="286.50" y="565.10" font-size="9.2" text-anchor="middle" font-weight="normal" fill="#111" >0</text>
<text x="185.40" y="588.80" font-size="10" text-anchor="middle" font-weight="normal" fill="#111" >Months</text>
</g>
<g transform="translate(0,308.5)">
<text x="166.70" y="305.00" font-size="13.9" text-anchor="middle" font-weight="bold" fill="#000" >Overall Survival (OS) by change</text>
<text x="166.70" y="321.20" font-size="13.9" text-anchor="middle" font-weight="bold" fill="#000" >in NKG7<tspan font-size="9" baseline-shift="5">+</tspan>CD11a<tspan font-size="9" baseline-shift="5">hi</tspan> CD8+ T cells</text>
<line x1="78.80" y1="332.80" x2="78.80" y2="488.90" stroke="#333" stroke-width="1.1" />
<line x1="78.30" y1="488.40" x2="300.70" y2="488.40" stroke="#333" stroke-width="1.1" />
<line x1="76.20" y1="481.20" x2="78.80" y2="481.20" stroke="#333" stroke-width="1" />
<text x="74.50" y="487.10" font-size="16.4" text-anchor="end" font-weight="normal" fill="#111" >0</text>
<line x1="76.20" y1="445.75" x2="78.80" y2="445.75" stroke="#333" stroke-width="1" />
<text x="74.50" y="451.65" font-size="16.4" text-anchor="end" font-weight="normal" fill="#111" >25</text>
<line x1="76.20" y1="410.30" x2="78.80" y2="410.30" stroke="#333" stroke-width="1" />
<text x="74.50" y="416.20" font-size="16.4" text-anchor="end" font-weight="normal" fill="#111" >50</text>
<line x1="76.20" y1="374.85" x2="78.80" y2="374.85" stroke="#333" stroke-width="1" />
<text x="74.50" y="380.75" font-size="16.4" text-anchor="end" font-weight="normal" fill="#111" >75</text>
<line x1="76.20" y1="339.40" x2="78.80" y2="339.40" stroke="#333" stroke-width="1" />
<text x="74.50" y="345.30" font-size="16.4" text-anchor="end" font-weight="normal" fill="#111" >100</text>
<line x1="89.10" y1="488.40" x2="89.10" y2="491.00" stroke="#333" stroke-width="1" />
<text x="89.10" y="504.60" font-size="15.6" text-anchor="middle" font-weight="normal" fill="#111" >0</text>
<line x1="129.60" y1="488.40" x2="129.60" y2="491.00" stroke="#333" stroke-width="1" />
<text x="129.60" y="504.60" font-size="15.6" text-anchor="middle" font-weight="normal" fill="#111" >6</text>
<line x1="170.10" y1="488.40" x2="170.10" y2="491.00" stroke="#333" stroke-width="1" />
<text x="170.10" y="504.60" font-size="15.6" text-anchor="middle" font-weight="normal" fill="#111" >12</text>
<line x1="210.60" y1="488.40" x2="210.60" y2="491.00" stroke="#333" stroke-width="1" />
<text x="210.60" y="504.60" font-size="15.6" text-anchor="middle" font-weight="normal" fill="#111" >18</text>
<line x1="251.10" y1="488.40" x2="251.10" y2="491.00" stroke="#333" stroke-width="1" />
<text x="251.10" y="504.60" font-size="15.6" text-anchor="middle" font-weight="normal" fill="#111" >24</text>
<line x1="291.60" y1="488.40" x2="291.60" y2="491.00" stroke="#333" stroke-width="1" />
<text x="291.60" y="504.60" font-size="15.6" text-anchor="middle" font-weight="normal" fill="#111" >30</text>
<text x="190.30" y="521.10" font-size="14.1" text-anchor="middle" font-weight="normal" fill="#111" >Months</text>
<text x="0.00" y="0.00" font-size="16.2" text-anchor="middle" font-weight="normal" fill="#111" transform="translate(42.3,410.6) rotate(-90)">Survival probability (%)</text>
<g transform="translate(0,2.0)">
<line x1="236.90" y1="347.40" x2="280.80" y2="347.40" stroke="#c4553e" stroke-width="2.2" />
<line x1="237.30" y1="364.60" x2="280.80" y2="364.60" stroke="#1a9aa5" stroke-width="2.4" stroke-dasharray="8.7,8.8"/>
<text x="286.90" y="351.90" font-size="12.5" text-anchor="start" font-weight="normal" fill="#111" >High</text>
<text x="287.20" y="369.00" font-size="12.5" text-anchor="start" font-weight="normal" fill="#111" >Low</text>
</g>
<text x="89.10" y="485.80" font-size="10.7" text-anchor="start" font-weight="normal" fill="#111" >p = 0.051</text>
<path d="M89.10,339.40 H126.60 V351.21 H149.60 V363.04 H190.40 V374.85 H192.20 V386.66 H206.90 V400.18 H216.00 V413.67 H229.50 V427.17 H281.70" fill="none" stroke="#c4553e" stroke-width="1.5"/>
<path d="M89.10,339.40 H120.00 V363.04 H124.00 V386.66 H132.00 V410.30 H187.90 V433.94 H222.20 V481.20 H222.20" fill="none" stroke="#1a9aa5" stroke-width="1.5" stroke-dasharray="5,4.5"/>
<line x1="200.70" y1="384.26" x2="200.70" y2="389.06" stroke="#c4553e" stroke-width="1.1" />
<line x1="230.80" y1="424.77" x2="230.80" y2="429.57" stroke="#c4553e" stroke-width="1.1" />
<line x1="239.30" y1="424.77" x2="239.30" y2="429.57" stroke="#c4553e" stroke-width="1.1" />
<line x1="281.70" y1="424.77" x2="281.70" y2="429.57" stroke="#c4553e" stroke-width="1.1" />
<line x1="198.80" y1="431.54" x2="198.80" y2="436.34" stroke="#1a9aa5" stroke-width="1.1" />
<text x="74.70" y="541.90" font-size="11.9" text-anchor="start" font-weight="normal" fill="#111" >Number at risk</text>
<line x1="74.60" y1="548.20" x2="74.60" y2="567.00" stroke="#333" stroke-width="1" />
<line x1="74.10" y1="566.50" x2="296.00" y2="566.50" stroke="#333" stroke-width="1" />
<line x1="72.80" y1="553.60" x2="74.60" y2="553.60" stroke="#333" stroke-width="1" />
<line x1="72.80" y1="561.30" x2="74.60" y2="561.30" stroke="#333" stroke-width="1" />
<text x="70.20" y="556.70" font-size="8.9" text-anchor="end" font-weight="normal" fill="#c4553e" >High</text>
<text x="70.20" y="564.40" font-size="8.9" text-anchor="end" font-weight="normal" fill="#1a9aa5" >Low</text>
<text x="0.00" y="0.00" font-size="10.2" text-anchor="middle" font-weight="normal" fill="#111" transform="translate(42.3,557.2) rotate(-90)">Strata</text>
<line x1="84.30" y1="566.50" x2="84.30" y2="568.60" stroke="#333" stroke-width="1" />
<text x="84.30" y="577.60" font-size="8.4" text-anchor="middle" font-weight="normal" fill="#111" >0</text>
<text x="84.30" y="557.20" font-size="9.2" text-anchor="middle" font-weight="normal" fill="#111" >12</text>
<text x="84.30" y="565.10" font-size="9.2" text-anchor="middle" font-weight="normal" fill="#111" >6</text>
<line x1="124.74" y1="566.50" x2="124.74" y2="568.60" stroke="#333" stroke-width="1" />
<text x="124.74" y="577.60" font-size="8.4" text-anchor="middle" font-weight="normal" fill="#111" >6</text>
<text x="124.74" y="557.20" font-size="9.2" text-anchor="middle" font-weight="normal" fill="#111" >11</text>
<text x="124.74" y="565.10" font-size="9.2" text-anchor="middle" font-weight="normal" fill="#111" >4</text>
<line x1="165.18" y1="566.50" x2="165.18" y2="568.60" stroke="#333" stroke-width="1" />
<text x="165.18" y="577.60" font-size="8.4" text-anchor="middle" font-weight="normal" fill="#111" >12</text>
<text x="165.18" y="557.20" font-size="9.2" text-anchor="middle" font-weight="normal" fill="#111" >10</text>
<text x="165.18" y="565.10" font-size="9.2" text-anchor="middle" font-weight="normal" fill="#111" >3</text>
<line x1="205.62" y1="566.50" x2="205.62" y2="568.60" stroke="#333" stroke-width="1" />
<text x="205.62" y="577.60" font-size="8.4" text-anchor="middle" font-weight="normal" fill="#111" >18</text>
<text x="205.62" y="557.20" font-size="9.2" text-anchor="middle" font-weight="normal" fill="#111" >6</text>
<text x="205.62" y="565.10" font-size="9.2" text-anchor="middle" font-weight="normal" fill="#111" >1</text>
<line x1="246.06" y1="566.50" x2="246.06" y2="568.60" stroke="#333" stroke-width="1" />
<text x="246.06" y="577.60" font-size="8.4" text-anchor="middle" font-weight="normal" fill="#111" >24</text>
<text x="246.06" y="557.20" font-size="9.2" text-anchor="middle" font-weight="normal" fill="#111" >1</text>
<text x="246.06" y="565.10" font-size="9.2" text-anchor="middle" font-weight="normal" fill="#111" >0</text>
<line x1="286.50" y1="566.50" x2="286.50" y2="568.60" stroke="#333" stroke-width="1" />
<text x="286.50" y="577.60" font-size="8.4" text-anchor="middle" font-weight="normal" fill="#111" >30</text>
<text x="286.50" y="557.20" font-size="9.2" text-anchor="middle" font-weight="normal" fill="#111" >0</text>
<text x="286.50" y="565.10" font-size="9.2" text-anchor="middle" font-weight="normal" fill="#111" >0</text>
<text x="185.40" y="588.80" font-size="10" text-anchor="middle" font-weight="normal" fill="#111" >Months</text>
</g>
<g transform="translate(346.6,308.5)">
<text x="166.70" y="305.00" font-size="13.9" text-anchor="middle" font-weight="bold" fill="#000" >Overall Survival (OS) by change</text>
<text x="166.70" y="321.20" font-size="13.9" text-anchor="middle" font-weight="bold" fill="#000" >in Bim<tspan font-size="9" baseline-shift="5">+</tspan>CD11a<tspan font-size="9" baseline-shift="5">hi</tspan> CD8+ T cells</text>
<line x1="78.80" y1="332.80" x2="78.80" y2="488.90" stroke="#333" stroke-width="1.1" />
<line x1="78.30" y1="488.40" x2="300.70" y2="488.40" stroke="#333" stroke-width="1.1" />
<line x1="76.20" y1="481.20" x2="78.80" y2="481.20" stroke="#333" stroke-width="1" />
<text x="74.50" y="487.10" font-size="16.4" text-anchor="end" font-weight="normal" fill="#111" >0</text>
<line x1="76.20" y1="445.75" x2="78.80" y2="445.75" stroke="#333" stroke-width="1" />
<text x="74.50" y="451.65" font-size="16.4" text-anchor="end" font-weight="normal" fill="#111" >25</text>
<line x1="76.20" y1="410.30" x2="78.80" y2="410.30" stroke="#333" stroke-width="1" />
<text x="74.50" y="416.20" font-size="16.4" text-anchor="end" font-weight="normal" fill="#111" >50</text>
<line x1="76.20" y1="374.85" x2="78.80" y2="374.85" stroke="#333" stroke-width="1" />
<text x="74.50" y="380.75" font-size="16.4" text-anchor="end" font-weight="normal" fill="#111" >75</text>
<line x1="76.20" y1="339.40" x2="78.80" y2="339.40" stroke="#333" stroke-width="1" />
<text x="74.50" y="345.30" font-size="16.4" text-anchor="end" font-weight="normal" fill="#111" >100</text>
<line x1="89.10" y1="488.40" x2="89.10" y2="491.00" stroke="#333" stroke-width="1" />
<text x="89.10" y="504.60" font-size="15.6" text-anchor="middle" font-weight="normal" fill="#111" >0</text>
<line x1="129.60" y1="488.40" x2="129.60" y2="491.00" stroke="#333" stroke-width="1" />
<text x="129.60" y="504.60" font-size="15.6" text-anchor="middle" font-weight="normal" fill="#111" >6</text>
<line x1="170.10" y1="488.40" x2="170.10" y2="491.00" stroke="#333" stroke-width="1" />
<text x="170.10" y="504.60" font-size="15.6" text-anchor="middle" font-weight="normal" fill="#111" >12</text>
<line x1="210.60" y1="488.40" x2="210.60" y2="491.00" stroke="#333" stroke-width="1" />
<text x="210.60" y="504.60" font-size="15.6" text-anchor="middle" font-weight="normal" fill="#111" >18</text>
<line x1="251.10" y1="488.40" x2="251.10" y2="491.00" stroke="#333" stroke-width="1" />
<text x="251.10" y="504.60" font-size="15.6" text-anchor="middle" font-weight="normal" fill="#111" >24</text>
<line x1="291.60" y1="488.40" x2="291.60" y2="491.00" stroke="#333" stroke-width="1" />
<text x="291.60" y="504.60" font-size="15.6" text-anchor="middle" font-weight="normal" fill="#111" >30</text>
<text x="190.30" y="521.10" font-size="14.1" text-anchor="middle" font-weight="normal" fill="#111" >Months</text>
<text x="0.00" y="0.00" font-size="16.2" text-anchor="middle" font-weight="normal" fill="#111" transform="translate(42.3,410.6) rotate(-90)">Survival probability (%)</text>
<g transform="translate(0.7,2.0)">
<line x1="236.90" y1="347.40" x2="280.80" y2="347.40" stroke="#c4553e" stroke-width="2.2" />
<line x1="237.30" y1="364.60" x2="280.80" y2="364.60" stroke="#1a9aa5" stroke-width="2.4" stroke-dasharray="8.7,8.8"/>
<text x="286.90" y="351.90" font-size="12.5" text-anchor="start" font-weight="normal" fill="#111" >High</text>
<text x="287.20" y="369.00" font-size="12.5" text-anchor="start" font-weight="normal" fill="#111" >Low</text>
</g>
<text x="89.10" y="485.80" font-size="10.7" text-anchor="start" font-weight="normal" fill="#111" >p = 0.0061</text>
<path d="M89.10,339.40 H123.80 V367.76 H126.30 V396.12 H149.30 V424.48 H190.20 V452.84 H206.60 V481.20 H206.60" fill="none" stroke="#c4553e" stroke-width="1.5"/>
<path d="M89.10,339.40 H120.10 V350.30 H131.80 V361.21 H187.60 V372.13 H192.00 V383.03 H215.70 V397.06 H221.90 V411.08 H229.60 V425.10 H281.40" fill="none" stroke="#1a9aa5" stroke-width="1.5" stroke-dasharray="5,4.5"/>
<line x1="198.60" y1="380.63" x2="198.60" y2="385.43" stroke="#1a9aa5" stroke-width="1.1" />
<line x1="200.40" y1="380.63" x2="200.40" y2="385.43" stroke="#1a9aa5" stroke-width="1.1" />
<line x1="231.10" y1="422.70" x2="231.10" y2="427.50" stroke="#1a9aa5" stroke-width="1.1" />
<line x1="239.50" y1="422.70" x2="239.50" y2="427.50" stroke="#1a9aa5" stroke-width="1.1" />
<line x1="281.40" y1="422.70" x2="281.40" y2="427.50" stroke="#1a9aa5" stroke-width="1.1" />
<text x="74.70" y="541.90" font-size="11.9" text-anchor="start" font-weight="normal" fill="#111" >Number at risk</text>
<line x1="74.60" y1="548.20" x2="74.60" y2="567.00" stroke="#333" stroke-width="1" />
<line x1="74.10" y1="566.50" x2="296.00" y2="566.50" stroke="#333" stroke-width="1" />
<line x1="72.80" y1="553.60" x2="74.60" y2="553.60" stroke="#333" stroke-width="1" />
<line x1="72.80" y1="561.30" x2="74.60" y2="561.30" stroke="#333" stroke-width="1" />
<text x="70.20" y="556.70" font-size="8.9" text-anchor="end" font-weight="normal" fill="#c4553e" >High</text>
<text x="70.20" y="564.40" font-size="8.9" text-anchor="end" font-weight="normal" fill="#1a9aa5" >Low</text>
<text x="0.00" y="0.00" font-size="10.2" text-anchor="middle" font-weight="normal" fill="#111" transform="translate(42.3,557.2) rotate(-90)">Strata</text>
<line x1="84.30" y1="566.50" x2="84.30" y2="568.60" stroke="#333" stroke-width="1" />
<text x="84.30" y="577.60" font-size="8.4" text-anchor="middle" font-weight="normal" fill="#111" >0</text>
<text x="84.30" y="557.20" font-size="9.2" text-anchor="middle" font-weight="normal" fill="#111" >5</text>
<text x="84.30" y="565.10" font-size="9.2" text-anchor="middle" font-weight="normal" fill="#111" >13</text>
<line x1="124.74" y1="566.50" x2="124.74" y2="568.60" stroke="#333" stroke-width="1" />
<text x="124.74" y="577.60" font-size="8.4" text-anchor="middle" font-weight="normal" fill="#111" >6</text>
<text x="124.74" y="557.20" font-size="9.2" text-anchor="middle" font-weight="normal" fill="#111" >3</text>
<text x="124.74" y="565.10" font-size="9.2" text-anchor="middle" font-weight="normal" fill="#111" >12</text>
<line x1="165.18" y1="566.50" x2="165.18" y2="568.60" stroke="#333" stroke-width="1" />
<text x="165.18" y="577.60" font-size="8.4" text-anchor="middle" font-weight="normal" fill="#111" >12</text>
<text x="165.18" y="557.20" font-size="9.2" text-anchor="middle" font-weight="normal" fill="#111" >2</text>
<text x="165.18" y="565.10" font-size="9.2" text-anchor="middle" font-weight="normal" fill="#111" >11</text>
<line x1="205.62" y1="566.50" x2="205.62" y2="568.60" stroke="#333" stroke-width="1" />
<text x="205.62" y="577.60" font-size="8.4" text-anchor="middle" font-weight="normal" fill="#111" >18</text>
<text x="205.62" y="557.20" font-size="9.2" text-anchor="middle" font-weight="normal" fill="#111" >0</text>
<text x="205.62" y="565.10" font-size="9.2" text-anchor="middle" font-weight="normal" fill="#111" >7</text>
<line x1="246.06" y1="566.50" x2="246.06" y2="568.60" stroke="#333" stroke-width="1" />
<text x="246.06" y="577.60" font-size="8.4" text-anchor="middle" font-weight="normal" fill="#111" >24</text>
<text x="246.06" y="557.20" font-size="9.2" text-anchor="middle" font-weight="normal" fill="#111" >0</text>
<text x="246.06" y="565.10" font-size="9.2" text-anchor="middle" font-weight="normal" fill="#111" >1</text>
<line x1="286.50" y1="566.50" x2="286.50" y2="568.60" stroke="#333" stroke-width="1" />
<text x="286.50" y="577.60" font-size="8.4" text-anchor="middle" font-weight="normal" fill="#111" >30</text>
<text x="286.50" y="557.20" font-size="9.2" text-anchor="middle" font-weight="normal" fill="#111" >0</text>
<text x="286.50" y="565.10" font-size="9.2" text-anchor="middle" font-weight="normal" fill="#111" >0</text>
<text x="185.40" y="588.80" font-size="10" text-anchor="middle" font-weight="normal" fill="#111" >Months</text>
</g>
</svg></body></html>
